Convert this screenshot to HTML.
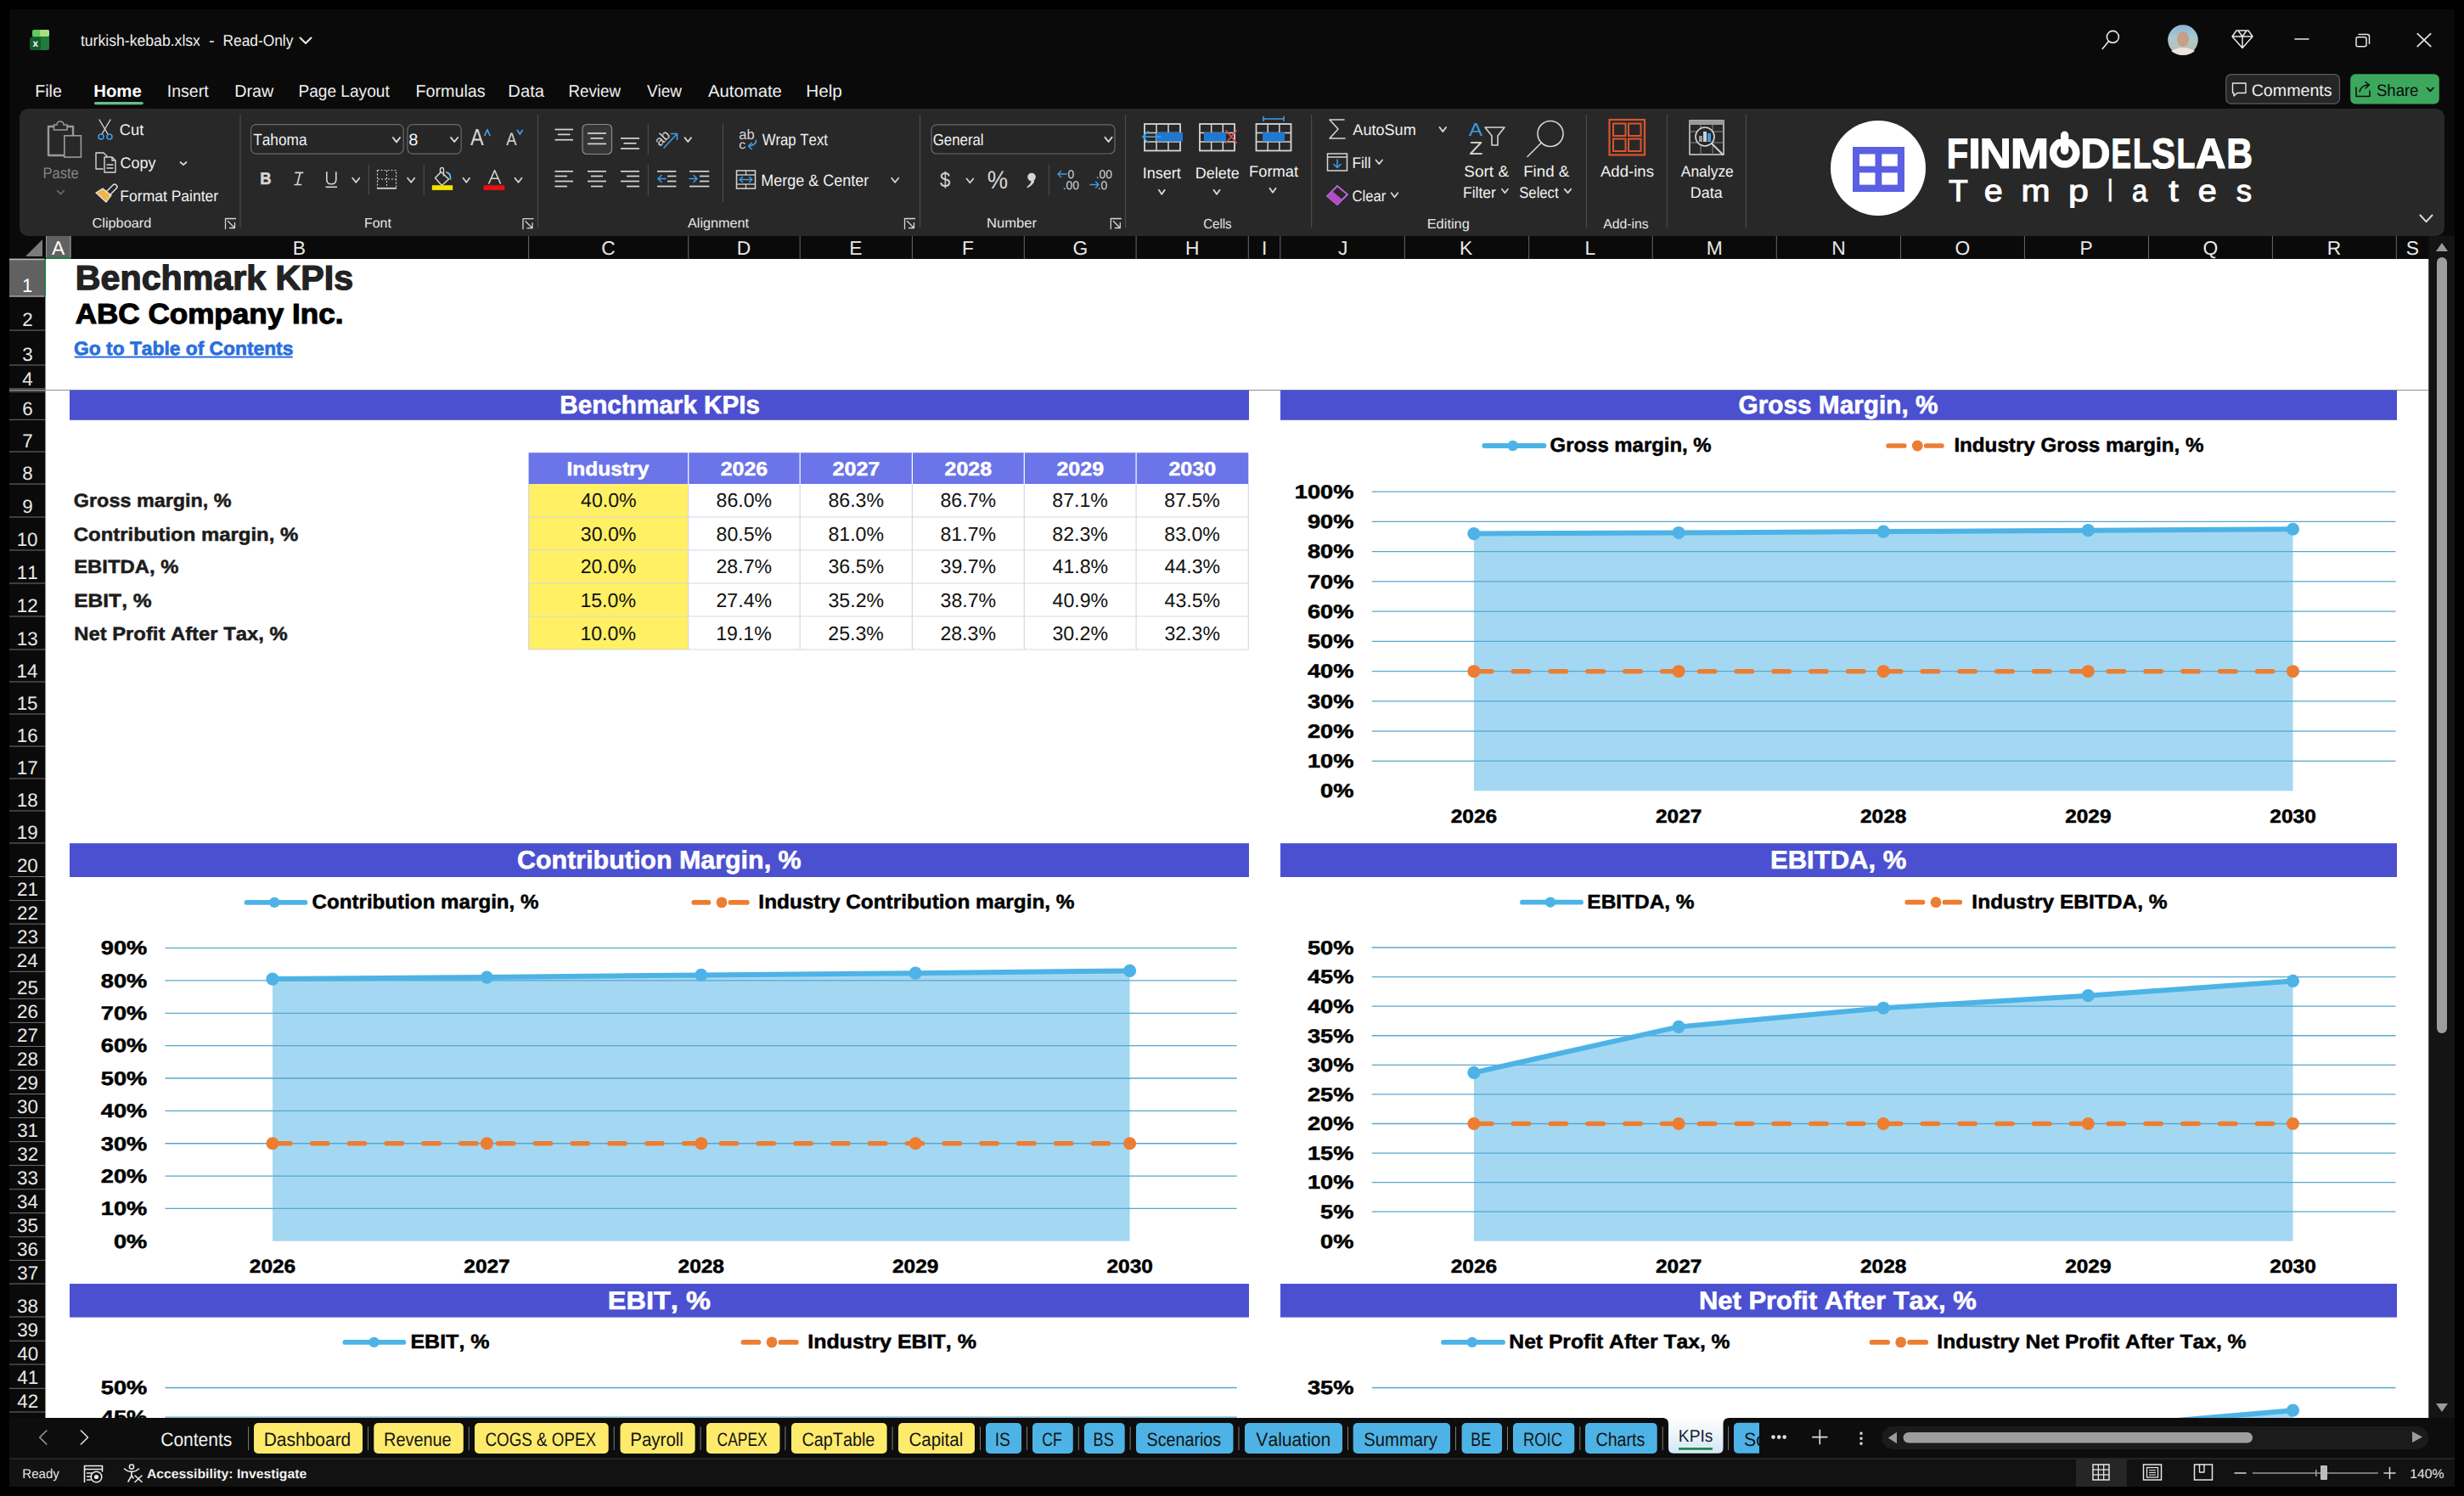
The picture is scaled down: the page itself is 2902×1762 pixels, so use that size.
<!DOCTYPE html>
<html><head><meta charset="utf-8"><style>
html,body{margin:0;padding:0;background:#000;width:2902px;height:1762px;overflow:hidden}
svg{display:block}
text{font-family:"Liberation Sans",sans-serif;font-kerning:none;white-space:pre}
</style></head><body>
<svg width="2902" height="1762" viewBox="0 0 2902 1762" text-rendering="geometricPrecision">
<rect x="0" y="0" width="2902" height="1762" fill="#000000"/>
<rect x="11" y="11" width="2880" height="1740" fill="#0a0a0a"/>
<rect x="23" y="128" width="2856" height="150" rx="10" ry="10" fill="#282828"/>
<rect x="38" y="35" width="20" height="24" rx="2.5" fill="#1f7a3b"/>
<rect x="38" y="35" width="20" height="8" rx="2.5" fill="#63c95f"/>
<rect x="47" y="35" width="11" height="8" rx="2" fill="#a8e07a"/>
<rect x="35" y="44" width="13" height="15" rx="2" fill="#115c2c"/>
<text transform="matrix(1.0000 0 0 1 38.42 0)" y="55" font-size="11.63" font-weight="700" fill="#ffffff">x</text>
<text transform="matrix(0.9474 0 0 1 94.93 0)" y="54.2" font-size="18.60" fill="#f0f0f0">turkish-kebab.xlsx</text>
<text transform="matrix(1.0788 0 0 1 245.91 0)" y="54.2" font-size="18.60" fill="#f0f0f0">-</text>
<text transform="matrix(0.9329 0 0 1 262.48 0)" y="54.2" font-size="18.60" fill="#f0f0f0">Read-Only</text>
<path d="M353.5 44.5 L360.0 50.900000000000006 L366.5 44.5" stroke="#e8e8e8" stroke-width="2.1" fill="none" stroke-linecap="round" stroke-linejoin="round"/>
<circle cx="2488.4" cy="43.4" r="7" fill="none" stroke="#e8e8e8" stroke-width="1.6"/>
<path d="M2483 49.2 L2476.2 57.4" stroke="#e8e8e8" stroke-width="1.6" fill="none" stroke-linecap="round" stroke-linejoin="round"/>
<defs><linearGradient id="av" x1="0" y1="0" x2="0" y2="1"><stop offset="0" stop-color="#8fb4d6"/><stop offset="0.45" stop-color="#a9c9cf"/><stop offset="1" stop-color="#c8b8a4"/></linearGradient></defs>
<circle cx="2571" cy="47" r="17.8" fill="url(#av)"/>
<ellipse cx="2571" cy="46" rx="7" ry="9" fill="#c59f86"/>
<path d="M2557 60 Q2571 52 2585 60 Q2579 65 2571 65 Q2563 65 2557 60Z" fill="#e9e4dc"/>
<path d="M2634 36 H2648 L2653 43 L2641 56.5 L2629 43 Z M2629 43 H2653 M2636 36 L2641 43 L2646 36 M2641 43 V56.5" stroke="#e8e8e8" stroke-width="1.5" fill="none" stroke-linecap="round" stroke-linejoin="round"/>
<path d="M2703 46.1 H2719" stroke="#e8e8e8" stroke-width="1.5" fill="none" stroke-linecap="round" stroke-linejoin="round"/>
<rect x="2775" y="43.7" width="12" height="11" rx="2" fill="none" stroke="#e8e8e8" stroke-width="1.5"/>
<path d="M2778 40.5 H2788 Q2790.5 40.5 2790.5 43 V51.5" stroke="#e8e8e8" stroke-width="1.5" fill="none" stroke-linecap="round" stroke-linejoin="round"/>
<path d="M2847.2 39.7 L2862.8 54.7 M2862.8 39.7 L2847.2 54.7" stroke="#e8e8e8" stroke-width="1.6" fill="none" stroke-linecap="round" stroke-linejoin="round"/>
<rect x="2621.7" y="87.7" width="133.8" height="34.4" rx="6" fill="#262626" stroke="#5c5c5c" stroke-width="1.2"/>
<path d="M2629.5 98 H2645 V109.5 H2635 L2631 113 V109.5 H2629.5 Z" stroke="#e8e8e8" stroke-width="1.4" fill="none" stroke-linecap="round" stroke-linejoin="round"/>
<text transform="matrix(1.0079 0 0 1 2651.70 0)" y="112.8" font-size="19.48" fill="#f2f2f2">Comments</text>
<rect x="2768.2" y="87.2" width="104.6" height="35.4" rx="6" fill="#3ca85d"/>
<path d="M2775 103 V113.5 H2791 V107 M2779 108 Q2781 100 2790 100 M2786 96.5 L2790.5 100 L2786 104" stroke="#0d0d0d" stroke-width="1.5" fill="none" stroke-linecap="round" stroke-linejoin="round"/>
<text transform="matrix(0.9518 0 0 1 2798.96 0)" y="112.8" font-size="19.48" fill="#0a0a0a">Share</text>
<path d="M2858.7 103.5 L2862.3 107.4 L2865.9 103.5" stroke="#0d0d0d" stroke-width="1.8" fill="none" stroke-linecap="round" stroke-linejoin="round"/>
<text transform="matrix(0.9804 0 0 1 41.19 0)" y="114" font-size="20.06" fill="#f0f0f0">File</text>
<text transform="matrix(1.0149 0 0 1 110.24 0)" y="114" font-size="20.06" font-weight="700" fill="#ffffff">Home</text>
<text transform="matrix(0.9737 0 0 1 196.80 0)" y="114" font-size="20.06" fill="#f0f0f0">Insert</text>
<text transform="matrix(0.9821 0 0 1 276.18 0)" y="114" font-size="20.06" fill="#f0f0f0">Draw</text>
<text transform="matrix(0.9527 0 0 1 351.43 0)" y="114" font-size="20.06" fill="#f0f0f0">Page Layout</text>
<text transform="matrix(0.9850 0 0 1 489.38 0)" y="114" font-size="20.06" fill="#f0f0f0">Formulas</text>
<text transform="matrix(1.0068 0 0 1 598.34 0)" y="114" font-size="20.06" fill="#f0f0f0">Data</text>
<text transform="matrix(0.9350 0 0 1 669.46 0)" y="114" font-size="20.06" fill="#f0f0f0">Review</text>
<text transform="matrix(0.9439 0 0 1 761.92 0)" y="114" font-size="20.06" fill="#f0f0f0">View</text>
<text transform="matrix(1.0127 0 0 1 833.96 0)" y="114" font-size="20.06" fill="#f0f0f0">Automate</text>
<text transform="matrix(1.0319 0 0 1 949.30 0)" y="114" font-size="20.06" fill="#f0f0f0">Help</text>
<rect x="111" y="120" width="57.8" height="3.2" rx="1.6" fill="#66bd8a"/>
<path d="M63 149 H57 V183 H75 M80 149 H86 V159" stroke="#9a9a9a" stroke-width="2.4" fill="none" stroke-linecap="round" stroke-linejoin="round" stroke-linecap="butt" stroke-linejoin="miter"/>
<path d="M63.5 147 H67 A4 4 0 0 1 75 147 H79 V153 H63.5 Z" fill="#282828" stroke="#9a9a9a" stroke-width="1.6"/>
<rect x="75.8" y="159.8" width="19.6" height="25.3" fill="#282828" stroke="#9a9a9a" stroke-width="1.6"/>
<text transform="matrix(0.9008 0 0 1 50.55 0)" y="209.7" font-size="18.31" fill="#858585">Paste</text>
<path d="M67.5 224.5 L71.4 228.7 L75.3 224.5" stroke="#6a6a6a" stroke-width="1.7" fill="none" stroke-linecap="round" stroke-linejoin="round"/>
<path d="M117 141 L127 158 M130 141 L120 158" stroke="#d6d6d6" stroke-width="1.4" fill="none" stroke-linecap="round" stroke-linejoin="round"/>
<circle cx="119" cy="161" r="3" fill="none" stroke="#3e9be3" stroke-width="1.6"/>
<circle cx="129" cy="161" r="3" fill="none" stroke="#3e9be3" stroke-width="1.6"/>
<text transform="matrix(0.9987 0 0 1 140.87 0)" y="159" font-size="18.31" fill="#f2f2f2">Cut</text>
<path d="M121 199 H113 V180 H122 L126 184" stroke="#d6d6d6" stroke-width="1.4" fill="none" stroke-linecap="round" stroke-linejoin="round"/>
<path d="M123 185 H132 L136 189 V203 H123 Z M132 185 V189 H136 M126 194 H133 M126 198 H133" stroke="#d6d6d6" stroke-width="1.4" fill="none" stroke-linecap="round" stroke-linejoin="round"/>
<text transform="matrix(0.9812 0 0 1 141.49 0)" y="198.1" font-size="18.31" fill="#f2f2f2">Copy</text>
<path d="M212.5 191.0 L216.0 194.2 L219.5 191.0" stroke="#d6d6d6" stroke-width="1.8" fill="none" stroke-linecap="round" stroke-linejoin="round"/>
<path d="M113 227 L125 238 L131 230 L121 222 Z" fill="#f0b54a" stroke="#e8e8e8" stroke-width="1.2"/>
<path d="M125 226 L133 218 Q135 216 137 218 Q139 220 137 222 L129 230" stroke="#e8e8e8" stroke-width="1.4" fill="none" stroke-linecap="round" stroke-linejoin="round"/>
<text transform="matrix(0.9572 0 0 1 141.36 0)" y="237.1" font-size="18.31" fill="#f2f2f2">Format Painter</text>
<text transform="matrix(1.0211 0 0 1 108.47 0)" y="267.7" font-size="15.99" fill="#e6e6e6">Clipboard</text>
<path d="M265.5 269.5 V257.5 H277.5 M268.5 260.5 L276.5 268.5 M276.5 262.5 V268.5 H270.5" stroke="#d6d6d6" stroke-width="1.3" fill="none" stroke-linecap="round" stroke-linejoin="round"/>
<line x1="283" y1="135" x2="283" y2="268" stroke="#4a4a4a" stroke-width="1.2"/>
<rect x="295.6" y="146.6" width="179.5" height="34.5" rx="6" fill="#262626" stroke="#6a6a6a" stroke-width="1.2"/>
<text transform="matrix(0.8992 0 0 1 298.21 0)" y="170.7" font-size="19.19" fill="#f2f2f2">Tahoma</text>
<path d="M462.9 162.1 L466.95 167.39999999999998 L471.0 162.1" stroke="#d6d6d6" stroke-width="1.9000000000000001" fill="none" stroke-linecap="round" stroke-linejoin="round"/>
<rect x="480" y="146.6" width="63.2" height="34.5" rx="6" fill="#262626" stroke="#6a6a6a" stroke-width="1.2"/>
<text transform="matrix(1.0441 0 0 1 481.13 0)" y="170.7" font-size="19.19" fill="#f2f2f2">8</text>
<path d="M531.1 162.1 L535.1500000000001 167.0 L539.2 162.1" stroke="#d6d6d6" stroke-width="1.9000000000000001" fill="none" stroke-linecap="round" stroke-linejoin="round"/>
<text transform="matrix(0.8564 0 0 1 553.95 0)" y="171.4" font-size="27.47" fill="#d6d6d6">A</text>
<path d="M570.9 159.5 L573.9 152.7 L576.9 159.5" stroke="#3e9be3" stroke-width="1.8" fill="none" stroke-linecap="round" stroke-linejoin="round"/>
<text transform="matrix(0.8791 0 0 1 596.36 0)" y="171.4" font-size="20.93" fill="#d6d6d6">A</text>
<path d="M609.3 153.5 L612.3 158.1 L615.3 153.5" stroke="#3e9be3" stroke-width="1.8" fill="none" stroke-linecap="round" stroke-linejoin="round"/>
<line x1="633.5" y1="135" x2="633.5" y2="268" stroke="#4a4a4a" stroke-width="1.2"/>
<text transform="matrix(0.9223 0 0 1 306.17 0)" y="217.4" font-size="19.91" font-weight="700" fill="#d6d6d6" stroke="#d6d6d6" stroke-width="0.6">B</text>
<path d="M348 203.4 H356.6 M347.2 217.5 H354.6 M353.6 203.4 L350 217.5" stroke="#d6d6d6" stroke-width="1.7" fill="none" stroke-linecap="round" stroke-linejoin="round"/>
<path d="M384.8 202.7 V211.5 Q384.8 216.8 390.3 216.8 Q395.8 216.8 395.8 211.5 V202.7" stroke="#d6d6d6" stroke-width="1.6" fill="none" stroke-linecap="round" stroke-linejoin="round"/>
<line x1="383.5" y1="220.3" x2="397" y2="220.3" stroke="#d6d6d6" stroke-width="1.6"/>
<path d="M415.2 209.8 L419.25 214.7 L423.3 209.8" stroke="#d6d6d6" stroke-width="1.8" fill="none" stroke-linecap="round" stroke-linejoin="round"/>
<line x1="434.4" y1="194" x2="434.4" y2="229.6" stroke="#4a4a4a" stroke-width="1.2"/>
<rect x="444.5" y="200.5" width="22" height="21" fill="none" stroke="#d6d6d6" stroke-width="1.2" stroke-dasharray="2 2"/>
<line x1="444" y1="221.8" x2="467" y2="221.8" stroke="#d6d6d6" stroke-width="1.8"/>
<line x1="455.5" y1="201" x2="455.5" y2="221" stroke="#d6d6d6" stroke-width="1.0" stroke-dasharray="2 2"/>
<line x1="445" y1="211" x2="466" y2="211" stroke="#d6d6d6" stroke-width="1.0" stroke-dasharray="2 2"/>
<path d="M480.1 209.8 L484.15 214.7 L488.2 209.8" stroke="#d6d6d6" stroke-width="1.8" fill="none" stroke-linecap="round" stroke-linejoin="round"/>
<line x1="499.3" y1="194" x2="499.3" y2="229.6" stroke="#4a4a4a" stroke-width="1.2"/>
<path d="M512.5 209.5 L519.5 202.5 L528.5 211 L522 217 Q520.5 218.3 519 217 Z" stroke="#d6d6d6" stroke-width="1.5" fill="none" stroke-linecap="round" stroke-linejoin="round"/>
<path d="M518.5 203.5 V199.5 Q518.5 197.5 520.5 197.5 Q522.5 197.5 522.5 199.5 V207" stroke="#d6d6d6" stroke-width="1.4" fill="none" stroke-linecap="round" stroke-linejoin="round"/>
<path d="M526 203 Q531 204 530.5 211" stroke="#6fb2ea" stroke-width="1.8" fill="none" stroke-linecap="round" stroke-linejoin="round"/>
<rect x="508.8" y="218.2" width="24.4" height="5.7" fill="#f5e400"/>
<path d="M545.5 209.8 L549.25 214.7 L553.0 209.8" stroke="#d6d6d6" stroke-width="1.8" fill="none" stroke-linecap="round" stroke-linejoin="round"/>
<path d="M575.8 216 L582.6 200.7 L589.4 216 M578.3 210.3 H586.9" stroke="#d6d6d6" stroke-width="1.6" fill="none" stroke-linecap="round" stroke-linejoin="round"/>
<rect x="569.6" y="218.2" width="24.7" height="5.7" fill="#e81010"/>
<path d="M606.5 209.8 L610.5 214.7 L614.5 209.8" stroke="#d6d6d6" stroke-width="1.8" fill="none" stroke-linecap="round" stroke-linejoin="round"/>
<text transform="matrix(0.9946 0 0 1 429.00 0)" y="267.7" font-size="15.99" fill="#e6e6e6">Font</text>
<path d="M616 269.7 V257.7 H628 M619 260.7 L627 268.7 M627 262.7 V268.7 H621" stroke="#d6d6d6" stroke-width="1.3" fill="none" stroke-linecap="round" stroke-linejoin="round"/>
<line x1="653.5" y1="152.5" x2="675" y2="152.5" stroke="#d6d6d6" stroke-width="1.7"/>
<line x1="657" y1="158.4" x2="671.5" y2="158.4" stroke="#d6d6d6" stroke-width="1.7"/>
<line x1="653.5" y1="164.7" x2="675" y2="164.7" stroke="#d6d6d6" stroke-width="1.7"/>
<rect x="686" y="146.5" width="34.5" height="35" rx="5" fill="#363636" stroke="#8e8e8e" stroke-width="1.2"/>
<line x1="692" y1="157" x2="714" y2="157" stroke="#d6d6d6" stroke-width="1.7"/>
<line x1="695.5" y1="162.9" x2="710.5" y2="162.9" stroke="#d6d6d6" stroke-width="1.7"/>
<line x1="692" y1="169.4" x2="714" y2="169.4" stroke="#d6d6d6" stroke-width="1.7"/>
<line x1="731" y1="162.9" x2="753" y2="162.9" stroke="#d6d6d6" stroke-width="1.7"/>
<line x1="734.5" y1="168.8" x2="749.5" y2="168.8" stroke="#d6d6d6" stroke-width="1.7"/>
<line x1="731" y1="175" x2="753" y2="175" stroke="#d6d6d6" stroke-width="1.7"/>
<line x1="763.4" y1="146" x2="763.4" y2="182.3" stroke="#4a4a4a" stroke-width="1.2"/>
<g transform="rotate(-45 780 161)"><text x="769.5" y="167.5" font-size="16.5" fill="#d6d6d6">ab</text></g>
<path d="M782 174 L797 158 M790.5 157.5 H797.5 V164.5" stroke="#3e9be3" stroke-width="1.6" fill="none" stroke-linecap="round" stroke-linejoin="round"/>
<path d="M806.5 162.1 L810.25 167.0 L814.0 162.1" stroke="#d6d6d6" stroke-width="1.8" fill="none" stroke-linecap="round" stroke-linejoin="round"/>
<line x1="653.5" y1="201.8" x2="675" y2="201.8" stroke="#d6d6d6" stroke-width="1.7"/>
<line x1="653.5" y1="207.5" x2="668" y2="207.5" stroke="#d6d6d6" stroke-width="1.7"/>
<line x1="653.5" y1="213.5" x2="675" y2="213.5" stroke="#d6d6d6" stroke-width="1.7"/>
<line x1="653.5" y1="219.5" x2="668" y2="219.5" stroke="#d6d6d6" stroke-width="1.7"/>
<line x1="692" y1="201.8" x2="714" y2="201.8" stroke="#d6d6d6" stroke-width="1.7"/>
<line x1="696" y1="207.5" x2="710" y2="207.5" stroke="#d6d6d6" stroke-width="1.7"/>
<line x1="692" y1="213.5" x2="714" y2="213.5" stroke="#d6d6d6" stroke-width="1.7"/>
<line x1="696" y1="219.5" x2="710" y2="219.5" stroke="#d6d6d6" stroke-width="1.7"/>
<line x1="731" y1="201.8" x2="753" y2="201.8" stroke="#d6d6d6" stroke-width="1.7"/>
<line x1="738" y1="207.5" x2="753" y2="207.5" stroke="#d6d6d6" stroke-width="1.7"/>
<line x1="731" y1="213.5" x2="753" y2="213.5" stroke="#d6d6d6" stroke-width="1.7"/>
<line x1="738" y1="219.5" x2="753" y2="219.5" stroke="#d6d6d6" stroke-width="1.7"/>
<line x1="763.4" y1="194" x2="763.4" y2="230.4" stroke="#4a4a4a" stroke-width="1.2"/>
<line x1="774" y1="201.8" x2="796.4" y2="201.8" stroke="#d6d6d6" stroke-width="1.7"/>
<line x1="774" y1="219.5" x2="796.4" y2="219.5" stroke="#d6d6d6" stroke-width="1.7"/>
<line x1="786" y1="207.5" x2="796.4" y2="207.5" stroke="#d6d6d6" stroke-width="1.7"/>
<line x1="786" y1="213.5" x2="796.4" y2="213.5" stroke="#d6d6d6" stroke-width="1.7"/>
<path d="M784 210.5 H775 M779 206.5 L775 210.5 L779 214.5" stroke="#3e9be3" stroke-width="1.5" fill="none" stroke-linecap="round" stroke-linejoin="round"/>
<line x1="812" y1="201.8" x2="835.3" y2="201.8" stroke="#d6d6d6" stroke-width="1.7"/>
<line x1="812" y1="219.5" x2="835.3" y2="219.5" stroke="#d6d6d6" stroke-width="1.7"/>
<line x1="824" y1="207.5" x2="835.3" y2="207.5" stroke="#d6d6d6" stroke-width="1.7"/>
<line x1="824" y1="213.5" x2="835.3" y2="213.5" stroke="#d6d6d6" stroke-width="1.7"/>
<path d="M812 210.5 H821 M817 206.5 L821 210.5 L817 214.5" stroke="#3e9be3" stroke-width="1.5" fill="none" stroke-linecap="round" stroke-linejoin="round"/>
<line x1="851.4" y1="145" x2="851.4" y2="238" stroke="#4a4a4a" stroke-width="1.2"/>
<text transform="matrix(0.9895 0 0 1 870.30 0)" y="163.5" font-size="16.72" fill="#d6d6d6">ab</text>
<text transform="matrix(1.1758 0 0 1 870.31 0)" y="175" font-size="13.81" fill="#d6d6d6">c</text>
<path d="M890.5 165 Q891 171 882 172 M885 168.5 L881.5 172 L885 175.5" stroke="#3e9be3" stroke-width="1.7" fill="none" stroke-linecap="round" stroke-linejoin="round"/>
<text transform="matrix(0.8736 0 0 1 897.63 0)" y="171.2" font-size="19.19" fill="#f2f2f2">Wrap Text</text>
<rect x="867.5" y="201" width="22" height="21" fill="none" stroke="#d6d6d6" stroke-width="1.5"/>
<line x1="867.5" y1="206" x2="889.5" y2="206" stroke="#d6d6d6" stroke-width="1.3"/>
<line x1="867.5" y1="217" x2="889.5" y2="217" stroke="#d6d6d6" stroke-width="1.3"/>
<rect x="869.5" y="207.5" width="18" height="8" fill="#282828"/>
<path d="M871 211.5 H886 M874.5 208.5 L871 211.5 L874.5 214.5 M882.5 208.5 L886 211.5 L882.5 214.5" stroke="#3e9be3" stroke-width="1.5" fill="none" stroke-linecap="round" stroke-linejoin="round"/>
<line x1="878.5" y1="201" x2="878.5" y2="206" stroke="#d6d6d6" stroke-width="1.2"/>
<line x1="878.5" y1="217" x2="878.5" y2="222" stroke="#d6d6d6" stroke-width="1.2"/>
<text transform="matrix(0.9383 0 0 1 896.22 0)" y="219.2" font-size="19.19" fill="#f2f2f2">Merge &amp; Center</text>
<path d="M1050.1 209.8 L1054.15 214.7 L1058.2 209.8" stroke="#d6d6d6" stroke-width="1.8" fill="none" stroke-linecap="round" stroke-linejoin="round"/>
<text transform="matrix(1.0148 0 0 1 809.97 0)" y="268" font-size="15.99" fill="#e6e6e6">Alignment</text>
<path d="M1065.5 269.5 V257.5 H1077.5 M1068.5 260.5 L1076.5 268.5 M1076.5 262.5 V268.5 H1070.5" stroke="#d6d6d6" stroke-width="1.3" fill="none" stroke-linecap="round" stroke-linejoin="round"/>
<line x1="1083.5" y1="135" x2="1083.5" y2="268" stroke="#4a4a4a" stroke-width="1.2"/>
<rect x="1097" y="146.8" width="216" height="34.2" rx="6" fill="#262626" stroke="#6a6a6a" stroke-width="1.2"/>
<text transform="matrix(0.8922 0 0 1 1098.65 0)" y="171" font-size="18.90" fill="#f2f2f2">General</text>
<path d="M1301.5 161.8 L1305.5 167.0 L1309.5 161.8" stroke="#d6d6d6" stroke-width="1.9000000000000001" fill="none" stroke-linecap="round" stroke-linejoin="round"/>
<text transform="matrix(0.8946 0 0 1 1107.06 0)" y="219.5" font-size="24.71" fill="#d6d6d6">$</text>
<path d="M1138.5 210.5 L1142.4 215.2 L1146.3 210.5" stroke="#d6d6d6" stroke-width="1.8" fill="none" stroke-linecap="round" stroke-linejoin="round"/>
<text transform="matrix(0.9192 0 0 1 1162.82 0)" y="222.3" font-size="29.80" fill="#d6d6d6">%</text>
<circle cx="1215" cy="208.5" r="4.8" fill="#d6d6d6"/>
<path d="M1217.5 211 Q1220 216 1210 221.5 L1209.5 220 Q1215 216 1214.5 212 Z" fill="#d6d6d6"/>
<line x1="1235.5" y1="194" x2="1235.5" y2="230" stroke="#4a4a4a" stroke-width="1.2"/>
<text transform="matrix(1.0000 0 0 1 1257.46 0)" y="210" font-size="13.81" fill="#d6d6d6">0</text>
<text transform="matrix(1.0000 0 0 1 1251.74 0)" y="222.9" font-size="13.81" fill="#d6d6d6">.00</text>
<path d="M1256 205 H1246 M1249.5 201.5 L1246 205 L1249.5 208.5" stroke="#3e9be3" stroke-width="1.4" fill="none" stroke-linecap="round" stroke-linejoin="round"/>
<text transform="matrix(1.0000 0 0 1 1290.74 0)" y="210" font-size="13.81" fill="#d6d6d6">.00</text>
<text transform="matrix(1.0000 0 0 1 1292.74 0)" y="222.9" font-size="13.81" fill="#d6d6d6">.0</text>
<path d="M1284 217.5 H1294 M1290.5 214 L1294 217.5 L1290.5 221" stroke="#3e9be3" stroke-width="1.4" fill="none" stroke-linecap="round" stroke-linejoin="round"/>
<text transform="matrix(1.0364 0 0 1 1162.04 0)" y="268" font-size="15.99" fill="#e6e6e6">Number</text>
<path d="M1308.3 269.5 V257.5 H1320.3 M1311.3 260.5 L1319.3 268.5 M1319.3 262.5 V268.5 H1313.3" stroke="#d6d6d6" stroke-width="1.3" fill="none" stroke-linecap="round" stroke-linejoin="round"/>
<line x1="1325.5" y1="135" x2="1325.5" y2="268" stroke="#4a4a4a" stroke-width="1.2"/>
<rect x="1348" y="146" width="42" height="31.5" fill="none" stroke="#d6d6d6" stroke-width="1.8"/>
<line x1="1362.0" y1="146" x2="1362.0" y2="177.5" stroke="#d6d6d6" stroke-width="1.5"/>
<line x1="1376.0" y1="146" x2="1376.0" y2="177.5" stroke="#d6d6d6" stroke-width="1.5"/>
<line x1="1348" y1="156.5" x2="1390" y2="156.5" stroke="#d6d6d6" stroke-width="1.5"/>
<line x1="1348" y1="167.0" x2="1390" y2="167.0" stroke="#d6d6d6" stroke-width="1.5"/>
<rect x="1362" y="156" width="31" height="10.5" fill="#1f78d1"/>
<path d="M1367 161.2 H1346 M1352 155 L1346 161.2 L1352 167.5" stroke="#3e9be3" stroke-width="1.8" fill="none" stroke-linecap="round" stroke-linejoin="round"/>
<text transform="matrix(0.9868 0 0 1 1345.63 0)" y="210" font-size="18.31" fill="#f2f2f2">Insert</text>
<path d="M1364.9 223.8 L1368.3000000000002 228.79999999999998 L1371.7 223.8" stroke="#d6d6d6" stroke-width="1.9000000000000001" fill="none" stroke-linecap="round" stroke-linejoin="round"/>
<rect x="1413" y="146" width="41" height="31.5" fill="none" stroke="#d6d6d6" stroke-width="1.8"/>
<line x1="1426.6666666666667" y1="146" x2="1426.6666666666667" y2="177.5" stroke="#d6d6d6" stroke-width="1.5"/>
<line x1="1440.3333333333333" y1="146" x2="1440.3333333333333" y2="177.5" stroke="#d6d6d6" stroke-width="1.5"/>
<line x1="1413" y1="156.5" x2="1454" y2="156.5" stroke="#d6d6d6" stroke-width="1.5"/>
<line x1="1413" y1="167.0" x2="1454" y2="167.0" stroke="#d6d6d6" stroke-width="1.5"/>
<rect x="1418" y="156" width="26" height="10.5" fill="#1f78d1"/>
<path d="M1444 154 L1456 168 M1456 154 L1444 168" stroke="#e04848" stroke-width="1.8" fill="none" stroke-linecap="round" stroke-linejoin="round"/>
<text transform="matrix(0.9818 0 0 1 1407.73 0)" y="210" font-size="18.31" fill="#f2f2f2">Delete</text>
<path d="M1429.5 223.8 L1433.0 228.79999999999998 L1436.5 223.8" stroke="#d6d6d6" stroke-width="1.9000000000000001" fill="none" stroke-linecap="round" stroke-linejoin="round"/>
<rect x="1479.5" y="146" width="41" height="31.5" fill="none" stroke="#d6d6d6" stroke-width="1.8"/>
<line x1="1493.1666666666667" y1="146" x2="1493.1666666666667" y2="177.5" stroke="#d6d6d6" stroke-width="1.5"/>
<line x1="1506.8333333333333" y1="146" x2="1506.8333333333333" y2="177.5" stroke="#d6d6d6" stroke-width="1.5"/>
<line x1="1479.5" y1="156.5" x2="1520.5" y2="156.5" stroke="#d6d6d6" stroke-width="1.5"/>
<line x1="1479.5" y1="167.0" x2="1520.5" y2="167.0" stroke="#d6d6d6" stroke-width="1.5"/>
<rect x="1487" y="156" width="26" height="10.5" fill="#1f78d1"/>
<path d="M1488 140 H1512 M1488 137.5 V142.5 M1512 137.5 V142.5" stroke="#3e9be3" stroke-width="1.6" fill="none" stroke-linecap="round" stroke-linejoin="round"/>
<text transform="matrix(1.0006 0 0 1 1471.10 0)" y="208" font-size="18.31" fill="#f2f2f2">Format</text>
<path d="M1495.5 221.8 L1499.0 226.7 L1502.5 221.8" stroke="#d6d6d6" stroke-width="1.9000000000000001" fill="none" stroke-linecap="round" stroke-linejoin="round"/>
<text transform="matrix(0.9371 0 0 1 1417.24 0)" y="269" font-size="15.99" fill="#e6e6e6">Cells</text>
<line x1="1544.6" y1="135" x2="1544.6" y2="268" stroke="#4a4a4a" stroke-width="1.2"/>
<path d="M1583 141 H1566 L1576 152 L1566 163 H1584" stroke="#d6d6d6" stroke-width="1.6" fill="none" stroke-linecap="round" stroke-linejoin="round"/>
<text transform="matrix(0.9880 0 0 1 1593.36 0)" y="159.3" font-size="18.31" fill="#f2f2f2">AutoSum</text>
<path d="M1695.5 150.0 L1699.3 154.89999999999998 L1703.1 150.0" stroke="#d6d6d6" stroke-width="1.9000000000000001" fill="none" stroke-linecap="round" stroke-linejoin="round"/>
<rect x="1563.5" y="181" width="23" height="20" fill="none" stroke="#d6d6d6" stroke-width="1.5"/>
<line x1="1563.5" y1="185" x2="1586.5" y2="185" stroke="#d6d6d6" stroke-width="1.5"/>
<path d="M1575 188 V197 M1571 193.5 L1575 197.5 L1579 193.5" stroke="#3e9be3" stroke-width="1.6" fill="none" stroke-linecap="round" stroke-linejoin="round"/>
<text transform="matrix(0.9436 0 0 1 1592.48 0)" y="197.7" font-size="18.31" fill="#f2f2f2">Fill</text>
<path d="M1620.5 188.5 L1624.3 193.1 L1628.1 188.5" stroke="#d6d6d6" stroke-width="1.8" fill="none" stroke-linecap="round" stroke-linejoin="round"/>
<path d="M1563 231 L1575 219 L1587 229 L1575 241 Z" fill="none" stroke="#c468d8" stroke-width="1.8"/>
<path d="M1563 231 L1569 225 L1581 235 L1575 241 Z" fill="#b04cc8"/>
<text transform="matrix(0.9076 0 0 1 1592.56 0)" y="237" font-size="18.31" fill="#f2f2f2">Clear</text>
<path d="M1638.7 227.3 L1642.5 232.2 L1646.3 227.3" stroke="#d6d6d6" stroke-width="1.8" fill="none" stroke-linecap="round" stroke-linejoin="round"/>
<text transform="matrix(1.1067 0 0 1 1729.95 0)" y="160" font-size="21.80" fill="#3e9be3">A</text>
<text transform="matrix(1.2140 0 0 1 1730.16 0)" y="181.5" font-size="21.80" fill="#d6d6d6">Z</text>
<path d="M1749 150 H1772 L1764 160 V171 H1757 V160 Z" stroke="#d6d6d6" stroke-width="1.6" fill="none" stroke-linecap="round" stroke-linejoin="round"/>
<text transform="matrix(1.0367 0 0 1 1724.34 0)" y="208.2" font-size="18.31" fill="#f2f2f2">Sort &amp;</text>
<text transform="matrix(0.9540 0 0 1 1723.07 0)" y="232.5" font-size="18.31" fill="#f2f2f2">Filter</text>
<path d="M1768.9 222.8 L1772.4 227.2 L1775.9 222.8" stroke="#d6d6d6" stroke-width="1.8" fill="none" stroke-linecap="round" stroke-linejoin="round"/>
<circle cx="1826" cy="157.5" r="15" fill="none" stroke="#d6d6d6" stroke-width="1.6"/>
<path d="M1815.5 168 L1799 184.5" stroke="#d6d6d6" stroke-width="1.6" fill="none" stroke-linecap="round" stroke-linejoin="round"/>
<text transform="matrix(1.0227 0 0 1 1794.16 0)" y="208.2" font-size="18.31" fill="#f2f2f2">Find &amp;</text>
<text transform="matrix(0.9112 0 0 1 1789.24 0)" y="232.5" font-size="18.31" fill="#f2f2f2">Select</text>
<path d="M1842.8 222.8 L1846.5 227.2 L1850.2 222.8" stroke="#d6d6d6" stroke-width="1.8" fill="none" stroke-linecap="round" stroke-linejoin="round"/>
<text transform="matrix(1.0270 0 0 1 1680.65 0)" y="269.3" font-size="15.99" fill="#e6e6e6">Editing</text>
<line x1="1868.4" y1="135" x2="1868.4" y2="268" stroke="#4a4a4a" stroke-width="1.2"/>
<rect x="1895.5" y="141" width="41.5" height="41.5" fill="none" stroke="#d9552e" stroke-width="2.2"/>
<rect x="1900" y="145.5" width="14.5" height="14.5" fill="none" stroke="#d9552e" stroke-width="2"/>
<rect x="1918" y="145.5" width="14.5" height="14.5" fill="none" stroke="#d9552e" stroke-width="2"/>
<rect x="1900" y="163.5" width="14.5" height="14.5" fill="none" stroke="#d9552e" stroke-width="2"/>
<rect x="1918" y="163.5" width="14.5" height="14.5" fill="none" stroke="#d9552e" stroke-width="2"/>
<text transform="matrix(1.0147 0 0 1 1884.96 0)" y="207.5" font-size="18.31" fill="#f2f2f2">Add-ins</text>
<text transform="matrix(0.9869 0 0 1 1888.17 0)" y="269.3" font-size="15.99" fill="#e6e6e6">Add-ins</text>
<line x1="1963.4" y1="135" x2="1963.4" y2="268" stroke="#4a4a4a" stroke-width="1.2"/>
<rect x="1990" y="142" width="40" height="40" fill="none" stroke="#d6d6d6" stroke-width="1.5"/>
<rect x="1990" y="142" width="40" height="5" fill="#9a9a9a"/>
<line x1="1990" y1="155" x2="2030" y2="155" stroke="#8a8a8a" stroke-width="1"/>
<line x1="1990" y1="168" x2="2030" y2="168" stroke="#8a8a8a" stroke-width="1"/>
<line x1="2003" y1="147" x2="2003" y2="182" stroke="#8a8a8a" stroke-width="1"/>
<line x1="2017" y1="147" x2="2017" y2="182" stroke="#8a8a8a" stroke-width="1"/>
<circle cx="2008" cy="161" r="11" fill="#282828" stroke="#d6d6d6" stroke-width="1.6"/>
<rect x="2001" y="160" width="4" height="7" fill="#9a9a9a"/>
<rect x="2006" y="155" width="4" height="12" fill="#d0d0d0"/>
<rect x="2011" y="157" width="4" height="10" fill="#3e9be3"/>
<path d="M2016 169 L2029 182" stroke="#d6d6d6" stroke-width="1.8" fill="none" stroke-linecap="round" stroke-linejoin="round"/>
<text transform="matrix(0.9533 0 0 1 1979.77 0)" y="208.2" font-size="18.31" fill="#f2f2f2">Analyze</text>
<text transform="matrix(0.9763 0 0 1 1990.83 0)" y="232.5" font-size="18.31" fill="#f2f2f2">Data</text>
<line x1="2056.4" y1="135" x2="2056.4" y2="268" stroke="#4a4a4a" stroke-width="1.2"/>
<circle cx="2212" cy="198" r="56" fill="#ffffff"/>
<rect x="2182" y="173" width="61" height="53" fill="#5b5fe3"/>
<rect x="2190" y="181.5" width="18.5" height="14.2" fill="#ffffff"/>
<rect x="2216.3" y="181.5" width="18.5" height="14.2" fill="#ffffff"/>
<rect x="2190" y="203.4" width="18.5" height="14.2" fill="#ffffff"/>
<rect x="2216.3" y="203.4" width="18.5" height="14.2" fill="#ffffff"/>
<text transform="matrix(0.8294 0 0 1 2292.82 0)" y="197.7" font-size="50.15" font-weight="700" fill="#ffffff" stroke="#fff" stroke-width="1.2">F</text>
<text transform="matrix(1.0799 0 0 1 2317.98 0)" y="197.7" font-size="50.15" font-weight="700" fill="#ffffff" stroke="#fff" stroke-width="1.2">I</text>
<text transform="matrix(1.0312 0 0 1 2331.54 0)" y="197.7" font-size="50.15" font-weight="700" fill="#ffffff" stroke="#fff" stroke-width="1.2">N</text>
<text transform="matrix(1.0895 0 0 1 2367.85 0)" y="197.7" font-size="50.15" font-weight="700" fill="#ffffff" stroke="#fff" stroke-width="1.2">M</text>
<text transform="matrix(0.9755 0 0 1 2450.33 0)" y="197.7" font-size="50.15" font-weight="700" fill="#ffffff" stroke="#fff" stroke-width="1.2">D</text>
<text transform="matrix(0.7038 0 0 1 2486.44 0)" y="197.7" font-size="50.15" font-weight="700" fill="#ffffff" stroke="#fff" stroke-width="1.2">E</text>
<text transform="matrix(0.7150 0 0 1 2511.90 0)" y="197.7" font-size="50.15" font-weight="700" fill="#ffffff" stroke="#fff" stroke-width="1.2">L</text>
<text transform="matrix(0.8388 0 0 1 2533.99 0)" y="197.7" font-size="50.15" font-weight="700" fill="#ffffff" stroke="#fff" stroke-width="1.2">S</text>
<text transform="matrix(0.7150 0 0 1 2563.60 0)" y="197.7" font-size="50.15" font-weight="700" fill="#ffffff" stroke="#fff" stroke-width="1.2">L</text>
<text transform="matrix(0.9868 0 0 1 2585.77 0)" y="197.7" font-size="50.15" font-weight="700" fill="#ffffff" stroke="#fff" stroke-width="1.2">A</text>
<text transform="matrix(0.8502 0 0 1 2622.15 0)" y="197.7" font-size="50.15" font-weight="700" fill="#ffffff" stroke="#fff" stroke-width="1.2">B</text>
<circle cx="2431.7" cy="179.8" r="13.6" fill="none" stroke="#ffffff" stroke-width="8.6"/>
<rect x="2423.5" y="150" width="16.5" height="14" fill="#282828"/>
<rect x="2427" y="154.6" width="9.3" height="27.6" rx="4.6" fill="#ffffff"/>
<text transform="matrix(1.0352 0 0 1 2295.06 0)" y="237.4" font-size="36.05" fill="#ffffff" stroke="#fff" stroke-width="1.0">T</text>
<text transform="matrix(1.0937 0 0 1 2336.83 0)" y="237.4" font-size="36.05" fill="#ffffff" stroke="#fff" stroke-width="1.0">e</text>
<text transform="matrix(1.1324 0 0 1 2380.49 0)" y="237.4" font-size="36.05" fill="#ffffff" stroke="#fff" stroke-width="1.0">m</text>
<text transform="matrix(1.1906 0 0 1 2436.03 0)" y="237.4" font-size="36.05" fill="#ffffff" stroke="#fff" stroke-width="1.0">p</text>
<text transform="matrix(0.6786 0 0 1 2482.60 0)" y="237.4" font-size="36.05" fill="#ffffff" stroke="#fff" stroke-width="1.0">l</text>
<text transform="matrix(0.9073 0 0 1 2511.01 0)" y="237.4" font-size="36.05" fill="#ffffff" stroke="#fff" stroke-width="1.0">a</text>
<text transform="matrix(1.1515 0 0 1 2554.17 0)" y="237.4" font-size="36.05" fill="#ffffff" stroke="#fff" stroke-width="1.0">t</text>
<text transform="matrix(1.0997 0 0 1 2588.82 0)" y="237.4" font-size="36.05" fill="#ffffff" stroke="#fff" stroke-width="1.0">e</text>
<text transform="matrix(1.0180 0 0 1 2633.68 0)" y="237.4" font-size="36.05" fill="#ffffff" stroke="#fff" stroke-width="1.0">s</text>
<path d="M2850.5 253.5 L2857.5 261.2 L2864.5 253.5" stroke="#e0e0e0" stroke-width="1.9000000000000001" fill="none" stroke-linecap="round" stroke-linejoin="round"/>
<rect x="11" y="278" width="2850" height="27" fill="#0a0a0a"/>
<polygon points="50,282 50,302 30,302" fill="#7a7a7a"/>
<rect x="54" y="278" width="29" height="27" fill="#616161"/>
<line x1="83" y1="278" x2="83" y2="305" stroke="#6a6a6a" stroke-width="1"/>
<line x1="622.6" y1="278" x2="622.6" y2="305" stroke="#6a6a6a" stroke-width="1"/>
<line x1="810.7" y1="278" x2="810.7" y2="305" stroke="#6a6a6a" stroke-width="1"/>
<line x1="942.2" y1="278" x2="942.2" y2="305" stroke="#6a6a6a" stroke-width="1"/>
<line x1="1074.4" y1="278" x2="1074.4" y2="305" stroke="#6a6a6a" stroke-width="1"/>
<line x1="1206.3" y1="278" x2="1206.3" y2="305" stroke="#6a6a6a" stroke-width="1"/>
<line x1="1338.1" y1="278" x2="1338.1" y2="305" stroke="#6a6a6a" stroke-width="1"/>
<line x1="1470.3" y1="278" x2="1470.3" y2="305" stroke="#6a6a6a" stroke-width="1"/>
<line x1="1507.8" y1="278" x2="1507.8" y2="305" stroke="#6a6a6a" stroke-width="1"/>
<line x1="1654.3" y1="278" x2="1654.3" y2="305" stroke="#6a6a6a" stroke-width="1"/>
<line x1="1800.7" y1="278" x2="1800.7" y2="305" stroke="#6a6a6a" stroke-width="1"/>
<line x1="1946.2" y1="278" x2="1946.2" y2="305" stroke="#6a6a6a" stroke-width="1"/>
<line x1="2092.3" y1="278" x2="2092.3" y2="305" stroke="#6a6a6a" stroke-width="1"/>
<line x1="2238.5" y1="278" x2="2238.5" y2="305" stroke="#6a6a6a" stroke-width="1"/>
<line x1="2384.4" y1="278" x2="2384.4" y2="305" stroke="#6a6a6a" stroke-width="1"/>
<line x1="2530.5" y1="278" x2="2530.5" y2="305" stroke="#6a6a6a" stroke-width="1"/>
<line x1="2676.4" y1="278" x2="2676.4" y2="305" stroke="#6a6a6a" stroke-width="1"/>
<line x1="2822.3" y1="278" x2="2822.3" y2="305" stroke="#6a6a6a" stroke-width="1"/>
<rect x="11" y="305" width="42" height="1365" fill="#0a0a0a"/>
<rect x="11" y="305" width="42" height="44" fill="#616161"/>
<line x1="11" y1="349" x2="53" y2="349" stroke="#707070" stroke-width="1"/>
<line x1="11" y1="389" x2="53" y2="389" stroke="#707070" stroke-width="1"/>
<line x1="11" y1="430" x2="53" y2="430" stroke="#707070" stroke-width="1"/>
<line x1="11" y1="457.7" x2="53" y2="457.7" stroke="#707070" stroke-width="1"/>
<line x1="11" y1="494.3" x2="53" y2="494.3" stroke="#707070" stroke-width="1"/>
<line x1="11" y1="532" x2="53" y2="532" stroke="#707070" stroke-width="1"/>
<line x1="11" y1="570" x2="53" y2="570" stroke="#707070" stroke-width="1"/>
<line x1="11" y1="609" x2="53" y2="609" stroke="#707070" stroke-width="1"/>
<line x1="11" y1="648" x2="53" y2="648" stroke="#707070" stroke-width="1"/>
<line x1="11" y1="687" x2="53" y2="687" stroke="#707070" stroke-width="1"/>
<line x1="11" y1="726" x2="53" y2="726" stroke="#707070" stroke-width="1"/>
<line x1="11" y1="765" x2="53" y2="765" stroke="#707070" stroke-width="1"/>
<line x1="11" y1="803" x2="53" y2="803" stroke="#707070" stroke-width="1"/>
<line x1="11" y1="841" x2="53" y2="841" stroke="#707070" stroke-width="1"/>
<line x1="11" y1="879" x2="53" y2="879" stroke="#707070" stroke-width="1"/>
<line x1="11" y1="917" x2="53" y2="917" stroke="#707070" stroke-width="1"/>
<line x1="11" y1="955" x2="53" y2="955" stroke="#707070" stroke-width="1"/>
<line x1="11" y1="993" x2="53" y2="993" stroke="#707070" stroke-width="1"/>
<line x1="11" y1="1032.5" x2="53" y2="1032.5" stroke="#707070" stroke-width="1"/>
<line x1="11" y1="1060.6" x2="53" y2="1060.6" stroke="#707070" stroke-width="1"/>
<line x1="11" y1="1088.2" x2="53" y2="1088.2" stroke="#707070" stroke-width="1"/>
<line x1="11" y1="1116.3" x2="53" y2="1116.3" stroke="#707070" stroke-width="1"/>
<line x1="11" y1="1144.3" x2="53" y2="1144.3" stroke="#707070" stroke-width="1"/>
<line x1="11" y1="1176.4" x2="53" y2="1176.4" stroke="#707070" stroke-width="1"/>
<line x1="11" y1="1204.4" x2="53" y2="1204.4" stroke="#707070" stroke-width="1"/>
<line x1="11" y1="1232.5" x2="53" y2="1232.5" stroke="#707070" stroke-width="1"/>
<line x1="11" y1="1260.6" x2="53" y2="1260.6" stroke="#707070" stroke-width="1"/>
<line x1="11" y1="1288.5" x2="53" y2="1288.5" stroke="#707070" stroke-width="1"/>
<line x1="11" y1="1316.5" x2="53" y2="1316.5" stroke="#707070" stroke-width="1"/>
<line x1="11" y1="1344.6" x2="53" y2="1344.6" stroke="#707070" stroke-width="1"/>
<line x1="11" y1="1372.6" x2="53" y2="1372.6" stroke="#707070" stroke-width="1"/>
<line x1="11" y1="1400.7" x2="53" y2="1400.7" stroke="#707070" stroke-width="1"/>
<line x1="11" y1="1428.7" x2="53" y2="1428.7" stroke="#707070" stroke-width="1"/>
<line x1="11" y1="1456.8" x2="53" y2="1456.8" stroke="#707070" stroke-width="1"/>
<line x1="11" y1="1484.4" x2="53" y2="1484.4" stroke="#707070" stroke-width="1"/>
<line x1="11" y1="1512" x2="53" y2="1512" stroke="#707070" stroke-width="1"/>
<line x1="11" y1="1551" x2="53" y2="1551" stroke="#707070" stroke-width="1"/>
<line x1="11" y1="1579.3" x2="53" y2="1579.3" stroke="#707070" stroke-width="1"/>
<line x1="11" y1="1607" x2="53" y2="1607" stroke="#707070" stroke-width="1"/>
<line x1="11" y1="1635.3" x2="53" y2="1635.3" stroke="#707070" stroke-width="1"/>
<line x1="11" y1="1663" x2="53" y2="1663" stroke="#707070" stroke-width="1"/>
<line x1="11" y1="461.4" x2="53" y2="461.4" stroke="#707070" stroke-width="1"/>
<line x1="11" y1="459.5" x2="53" y2="459.5" stroke="#c8c8c8" stroke-width="1.2"/>
<line x1="11" y1="305" x2="53" y2="305" stroke="#8a8a8a" stroke-width="1"/>
<line x1="11" y1="305.6" x2="52" y2="305.6" stroke="#bdbdbd" stroke-width="1.2"/>
<line x1="11" y1="349" x2="52" y2="349" stroke="#bdbdbd" stroke-width="1.2"/>
<line x1="54.5" y1="278" x2="54.5" y2="303" stroke="#9a9a9a" stroke-width="1"/>
<line x1="83" y1="278" x2="83" y2="303" stroke="#9a9a9a" stroke-width="1"/>
<line x1="53" y1="305" x2="53" y2="349" stroke="#1f7a45" stroke-width="2"/>
<line x1="54" y1="304" x2="83" y2="304" stroke="#1f7a45" stroke-width="2"/>
<text transform="matrix(1.0000 0 0 1 60.89 0)" y="299.8" font-size="22.82" fill="#ffffff">A</text>
<text transform="matrix(1.0000 0 0 1 344.86 0)" y="299.8" font-size="22.82" fill="#e8e8e8">B</text>
<text transform="matrix(1.0000 0 0 1 708.27 0)" y="299.8" font-size="22.82" fill="#e8e8e8">C</text>
<text transform="matrix(1.0000 0 0 1 867.82 0)" y="299.8" font-size="22.82" fill="#e8e8e8">D</text>
<text transform="matrix(1.0000 0 0 1 1000.24 0)" y="299.8" font-size="22.82" fill="#e8e8e8">E</text>
<text transform="matrix(1.0000 0 0 1 1132.90 0)" y="299.8" font-size="22.82" fill="#e8e8e8">F</text>
<text transform="matrix(1.0000 0 0 1 1263.60 0)" y="299.8" font-size="22.82" fill="#e8e8e8">G</text>
<text transform="matrix(1.0000 0 0 1 1395.95 0)" y="299.8" font-size="22.82" fill="#e8e8e8">H</text>
<text transform="matrix(1.0000 0 0 1 1485.88 0)" y="299.8" font-size="22.82" fill="#e8e8e8">I</text>
<text transform="matrix(1.0000 0 0 1 1576.01 0)" y="299.8" font-size="22.82" fill="#e8e8e8">J</text>
<text transform="matrix(1.0000 0 0 1 1719.08 0)" y="299.8" font-size="22.82" fill="#e8e8e8">K</text>
<text transform="matrix(1.0000 0 0 1 1866.55 0)" y="299.8" font-size="22.82" fill="#e8e8e8">L</text>
<text transform="matrix(1.0000 0 0 1 2009.75 0)" y="299.8" font-size="22.82" fill="#e8e8e8">M</text>
<text transform="matrix(1.0000 0 0 1 2157.15 0)" y="299.8" font-size="22.82" fill="#e8e8e8">N</text>
<text transform="matrix(1.0000 0 0 1 2302.58 0)" y="299.8" font-size="22.82" fill="#e8e8e8">O</text>
<text transform="matrix(1.0000 0 0 1 2449.51 0)" y="299.8" font-size="22.82" fill="#e8e8e8">P</text>
<text transform="matrix(1.0000 0 0 1 2594.58 0)" y="299.8" font-size="22.82" fill="#e8e8e8">Q</text>
<text transform="matrix(1.0000 0 0 1 2740.70 0)" y="299.8" font-size="22.82" fill="#e8e8e8">R</text>
<text transform="matrix(1.0000 0 0 1 2833.80 0)" y="299.8" font-size="22.82" fill="#e8e8e8">S</text>
<text transform="matrix(1.0000 0 0 1 25.97 0)" y="343.5" font-size="22.38" fill="#ffffff">1</text>
<text transform="matrix(1.0000 0 0 1 26.28 0)" y="383.5" font-size="22.38" fill="#e8e8e8">2</text>
<text transform="matrix(1.0000 0 0 1 26.34 0)" y="424.5" font-size="22.38" fill="#e8e8e8">3</text>
<text transform="matrix(1.0000 0 0 1 26.35 0)" y="454" font-size="22.38" fill="#e8e8e8">4</text>
<text transform="matrix(1.0000 0 0 1 26.20 0)" y="488.8" font-size="22.38" fill="#e8e8e8">6</text>
<text transform="matrix(1.0000 0 0 1 26.26 0)" y="526.5" font-size="22.38" fill="#e8e8e8">7</text>
<text transform="matrix(1.0000 0 0 1 26.28 0)" y="564.5" font-size="22.38" fill="#e8e8e8">8</text>
<text transform="matrix(1.0000 0 0 1 26.28 0)" y="603.5" font-size="22.38" fill="#e8e8e8">9</text>
<text transform="matrix(1.0000 0 0 1 19.64 0)" y="642.5" font-size="22.38" fill="#e8e8e8">10</text>
<text transform="matrix(1.0000 0 0 1 19.75 0)" y="681.5" font-size="22.38" fill="#e8e8e8">11</text>
<text transform="matrix(1.0000 0 0 1 19.76 0)" y="720.5" font-size="22.38" fill="#e8e8e8">12</text>
<text transform="matrix(1.0000 0 0 1 19.69 0)" y="759.5" font-size="22.38" fill="#e8e8e8">13</text>
<text transform="matrix(1.0000 0 0 1 19.53 0)" y="797.5" font-size="22.38" fill="#e8e8e8">14</text>
<text transform="matrix(1.0000 0 0 1 19.67 0)" y="835.5" font-size="22.38" fill="#e8e8e8">15</text>
<text transform="matrix(1.0000 0 0 1 19.69 0)" y="873.5" font-size="22.38" fill="#e8e8e8">16</text>
<text transform="matrix(1.0000 0 0 1 19.76 0)" y="911.5" font-size="22.38" fill="#e8e8e8">17</text>
<text transform="matrix(1.0000 0 0 1 19.69 0)" y="949.5" font-size="22.38" fill="#e8e8e8">18</text>
<text transform="matrix(1.0000 0 0 1 19.73 0)" y="987.5" font-size="22.38" fill="#e8e8e8">19</text>
<text transform="matrix(1.0000 0 0 1 19.93 0)" y="1027.0" font-size="22.38" fill="#e8e8e8">20</text>
<text transform="matrix(1.0000 0 0 1 20.03 0)" y="1055.1" font-size="22.38" fill="#e8e8e8">21</text>
<text transform="matrix(1.0000 0 0 1 20.05 0)" y="1082.7" font-size="22.38" fill="#e8e8e8">22</text>
<text transform="matrix(1.0000 0 0 1 19.98 0)" y="1110.8" font-size="22.38" fill="#e8e8e8">23</text>
<text transform="matrix(1.0000 0 0 1 19.82 0)" y="1138.8" font-size="22.38" fill="#e8e8e8">24</text>
<text transform="matrix(1.0000 0 0 1 19.96 0)" y="1170.9" font-size="22.38" fill="#e8e8e8">25</text>
<text transform="matrix(1.0000 0 0 1 19.98 0)" y="1198.9" font-size="22.38" fill="#e8e8e8">26</text>
<text transform="matrix(1.0000 0 0 1 20.05 0)" y="1227.0" font-size="22.38" fill="#e8e8e8">27</text>
<text transform="matrix(1.0000 0 0 1 19.97 0)" y="1255.1" font-size="22.38" fill="#e8e8e8">28</text>
<text transform="matrix(1.0000 0 0 1 20.02 0)" y="1283.0" font-size="22.38" fill="#e8e8e8">29</text>
<text transform="matrix(1.0000 0 0 1 20.06 0)" y="1311.0" font-size="22.38" fill="#e8e8e8">30</text>
<text transform="matrix(1.0000 0 0 1 20.17 0)" y="1339.1" font-size="22.38" fill="#e8e8e8">31</text>
<text transform="matrix(1.0000 0 0 1 20.19 0)" y="1367.1" font-size="22.38" fill="#e8e8e8">32</text>
<text transform="matrix(1.0000 0 0 1 20.12 0)" y="1395.2" font-size="22.38" fill="#e8e8e8">33</text>
<text transform="matrix(1.0000 0 0 1 19.95 0)" y="1423.2" font-size="22.38" fill="#e8e8e8">34</text>
<text transform="matrix(1.0000 0 0 1 20.09 0)" y="1451.3" font-size="22.38" fill="#e8e8e8">35</text>
<text transform="matrix(1.0000 0 0 1 20.12 0)" y="1478.9" font-size="22.38" fill="#e8e8e8">36</text>
<text transform="matrix(1.0000 0 0 1 20.19 0)" y="1506.5" font-size="22.38" fill="#e8e8e8">37</text>
<text transform="matrix(1.0000 0 0 1 20.11 0)" y="1545.5" font-size="22.38" fill="#e8e8e8">38</text>
<text transform="matrix(1.0000 0 0 1 20.16 0)" y="1573.8" font-size="22.38" fill="#e8e8e8">39</text>
<text transform="matrix(1.0000 0 0 1 20.23 0)" y="1601.5" font-size="22.38" fill="#e8e8e8">40</text>
<text transform="matrix(1.0000 0 0 1 20.34 0)" y="1629.8" font-size="22.38" fill="#e8e8e8">41</text>
<text transform="matrix(1.0000 0 0 1 20.36 0)" y="1657.5" font-size="22.38" fill="#e8e8e8">42</text>
<rect x="54" y="305" width="2806.5" height="1365" fill="#ffffff"/>
<line x1="53.5" y1="349" x2="53.5" y2="1670" stroke="#8a8a8a" stroke-width="1"/>
<line x1="54" y1="459.5" x2="2860" y2="459.5" stroke="#8f8f8f" stroke-width="1"/>
<defs><clipPath id="sc"><rect x="54" y="305" width="2806.5" height="1365"/></clipPath></defs><g clip-path="url(#sc)">
<text transform="matrix(1.0190 0 0 1 88.85 0)" y="341.4" font-size="40.41" font-weight="700" fill="#222222" stroke="#222" stroke-width="1.3">Benchmark KPIs</text>
<text transform="matrix(1.0498 0 0 1 88.63 0)" y="381.4" font-size="33.43" font-weight="700" fill="#000000" stroke="#000" stroke-width="1.1">ABC Company Inc.</text>
<text transform="matrix(1.0186 0 0 1 87.06 0)" y="417.7" font-size="22.38" font-weight="700" fill="#2a6fdb" stroke="#2a6fdb" stroke-width="0.7">Go to Table of Contents</text>
<rect x="87.7" y="419.5" width="257" height="2" fill="#2a6fdb"/>
<rect x="82" y="459.6" width="1389" height="35.19999999999999" fill="#4b50d0"/>
<text transform="matrix(0.9861 0 0 1 659.32 0)" y="487.3" font-size="30.09" font-weight="700" fill="#ffffff" stroke="#fff" stroke-width="0.6">Benchmark KPIs</text>
<rect x="1508" y="459.6" width="1315" height="35.19999999999999" fill="#4b50d0"/>
<text transform="matrix(0.9897 0 0 1 2047.53 0)" y="487.4" font-size="30.09" font-weight="700" fill="#ffffff" stroke="#fff" stroke-width="0.6">Gross Margin, %</text>
<rect x="82" y="993.2" width="1389" height="39.799999999999955" fill="#4b50d0"/>
<text transform="matrix(1.0113 0 0 1 609.05 0)" y="1023.3" font-size="30.09" font-weight="700" fill="#ffffff" stroke="#fff" stroke-width="0.6">Contribution Margin, %</text>
<rect x="1508" y="993.2" width="1315" height="39.799999999999955" fill="#4b50d0"/>
<text transform="matrix(1.0324 0 0 1 2084.92 0)" y="1023.3" font-size="30.09" font-weight="700" fill="#ffffff" stroke="#fff" stroke-width="0.6">EBITDA, %</text>
<rect x="82" y="1512" width="1389" height="39.59999999999991" fill="#4b50d0"/>
<text transform="matrix(1.0806 0 0 1 715.83 0)" y="1541.5" font-size="30.09" font-weight="700" fill="#ffffff" stroke="#fff" stroke-width="0.6">EBIT, %</text>
<rect x="1508" y="1512" width="1315" height="39.59999999999991" fill="#4b50d0"/>
<text transform="matrix(1.0291 0 0 1 2000.93 0)" y="1541.5" font-size="30.09" font-weight="700" fill="#ffffff" stroke="#fff" stroke-width="0.6">Net Profit After Tax, %</text>
<rect x="622.6" y="533.2" width="847.7" height="36.8" fill="#6b74e8"/>
<line x1="810.7" y1="533.2" x2="810.7" y2="570" stroke="#ffffff" stroke-width="1.2"/>
<line x1="942.2" y1="533.2" x2="942.2" y2="570" stroke="#ffffff" stroke-width="1.2"/>
<line x1="1074.4" y1="533.2" x2="1074.4" y2="570" stroke="#ffffff" stroke-width="1.2"/>
<line x1="1206.3" y1="533.2" x2="1206.3" y2="570" stroke="#ffffff" stroke-width="1.2"/>
<line x1="1338.1" y1="533.2" x2="1338.1" y2="570" stroke="#ffffff" stroke-width="1.2"/>
<text transform="matrix(1.0682 0 0 1 667.51 0)" y="559.7" font-size="22.97" font-weight="700" fill="#ffffff" stroke="#fff" stroke-width="0.5">Industry</text>
<text transform="matrix(1.0877 0 0 1 848.68 0)" y="559.7" font-size="22.97" font-weight="700" fill="#ffffff" stroke="#fff" stroke-width="0.5">2026</text>
<text transform="matrix(1.0917 0 0 1 980.53 0)" y="559.7" font-size="22.97" font-weight="700" fill="#ffffff" stroke="#fff" stroke-width="0.5">2027</text>
<text transform="matrix(1.0850 0 0 1 1112.59 0)" y="559.7" font-size="22.97" font-weight="700" fill="#ffffff" stroke="#fff" stroke-width="0.5">2028</text>
<text transform="matrix(1.0882 0 0 1 1244.43 0)" y="559.7" font-size="22.97" font-weight="700" fill="#ffffff" stroke="#fff" stroke-width="0.5">2029</text>
<text transform="matrix(1.0902 0 0 1 1376.43 0)" y="559.7" font-size="22.97" font-weight="700" fill="#ffffff" stroke="#fff" stroke-width="0.5">2030</text>
<rect x="622.6" y="570" width="188.1" height="195" fill="#fff064"/>
<line x1="622.6" y1="609" x2="1470.3" y2="609" stroke="#d5d8e6" stroke-width="1.2"/>
<line x1="622.6" y1="648" x2="1470.3" y2="648" stroke="#d5d8e6" stroke-width="1.2"/>
<line x1="622.6" y1="687" x2="1470.3" y2="687" stroke="#d5d8e6" stroke-width="1.2"/>
<line x1="622.6" y1="726" x2="1470.3" y2="726" stroke="#d5d8e6" stroke-width="1.2"/>
<line x1="622.6" y1="765" x2="1470.3" y2="765" stroke="#d5d8e6" stroke-width="1.2"/>
<line x1="622.6" y1="570" x2="622.6" y2="765" stroke="#d5d8e6" stroke-width="1.2"/>
<line x1="810.7" y1="570" x2="810.7" y2="765" stroke="#d5d8e6" stroke-width="1.2"/>
<line x1="942.2" y1="570" x2="942.2" y2="765" stroke="#d5d8e6" stroke-width="1.2"/>
<line x1="1074.4" y1="570" x2="1074.4" y2="765" stroke="#d5d8e6" stroke-width="1.2"/>
<line x1="1206.3" y1="570" x2="1206.3" y2="765" stroke="#d5d8e6" stroke-width="1.2"/>
<line x1="1338.1" y1="570" x2="1338.1" y2="765" stroke="#d5d8e6" stroke-width="1.2"/>
<line x1="1470.3" y1="570" x2="1470.3" y2="765" stroke="#d5d8e6" stroke-width="1.2"/>
<text transform="matrix(1.0512 0 0 1 86.84 0)" y="597.3" font-size="22.24" font-weight="700" fill="#1c1c1c" stroke="#1c1c1c" stroke-width="0.5">Gross margin, %</text>
<text transform="matrix(1.0000 0 0 1 684.03 0)" y="597.3" font-size="23.11" fill="#111111">40.0%</text>
<text transform="matrix(1.0000 0 0 1 843.60 0)" y="597.3" font-size="23.11" fill="#111111">86.0%</text>
<text transform="matrix(1.0000 0 0 1 975.45 0)" y="597.3" font-size="23.11" fill="#111111">86.3%</text>
<text transform="matrix(1.0000 0 0 1 1107.50 0)" y="597.3" font-size="23.11" fill="#111111">86.7%</text>
<text transform="matrix(1.0000 0 0 1 1239.35 0)" y="597.3" font-size="23.11" fill="#111111">87.1%</text>
<text transform="matrix(1.0000 0 0 1 1371.35 0)" y="597.3" font-size="23.11" fill="#111111">87.5%</text>
<text transform="matrix(1.0760 0 0 1 86.82 0)" y="636.7" font-size="22.24" font-weight="700" fill="#1c1c1c" stroke="#1c1c1c" stroke-width="0.5">Contribution margin, %</text>
<text transform="matrix(1.0000 0 0 1 683.86 0)" y="636.7" font-size="23.11" fill="#111111">30.0%</text>
<text transform="matrix(1.0000 0 0 1 843.60 0)" y="636.7" font-size="23.11" fill="#111111">80.5%</text>
<text transform="matrix(1.0000 0 0 1 975.45 0)" y="636.7" font-size="23.11" fill="#111111">81.0%</text>
<text transform="matrix(1.0000 0 0 1 1107.50 0)" y="636.7" font-size="23.11" fill="#111111">81.7%</text>
<text transform="matrix(1.0000 0 0 1 1239.35 0)" y="636.7" font-size="23.11" fill="#111111">82.3%</text>
<text transform="matrix(1.0000 0 0 1 1371.35 0)" y="636.7" font-size="23.11" fill="#111111">83.0%</text>
<text transform="matrix(1.0715 0 0 1 87.21 0)" y="675.4" font-size="22.24" font-weight="700" fill="#1c1c1c" stroke="#1c1c1c" stroke-width="0.5">EBITDA, %</text>
<text transform="matrix(1.0000 0 0 1 683.72 0)" y="675.4" font-size="23.11" fill="#111111">20.0%</text>
<text transform="matrix(1.0000 0 0 1 843.52 0)" y="675.4" font-size="23.11" fill="#111111">28.7%</text>
<text transform="matrix(1.0000 0 0 1 975.51 0)" y="675.4" font-size="23.11" fill="#111111">36.5%</text>
<text transform="matrix(1.0000 0 0 1 1107.56 0)" y="675.4" font-size="23.11" fill="#111111">39.7%</text>
<text transform="matrix(1.0000 0 0 1 1239.58 0)" y="675.4" font-size="23.11" fill="#111111">41.8%</text>
<text transform="matrix(1.0000 0 0 1 1371.58 0)" y="675.4" font-size="23.11" fill="#111111">44.3%</text>
<text transform="matrix(1.1052 0 0 1 87.16 0)" y="714.8" font-size="22.24" font-weight="700" fill="#1c1c1c" stroke="#1c1c1c" stroke-width="0.5">EBIT, %</text>
<text transform="matrix(1.0000 0 0 1 683.42 0)" y="714.8" font-size="23.11" fill="#111111">15.0%</text>
<text transform="matrix(1.0000 0 0 1 843.52 0)" y="714.8" font-size="23.11" fill="#111111">27.4%</text>
<text transform="matrix(1.0000 0 0 1 975.51 0)" y="714.8" font-size="23.11" fill="#111111">35.2%</text>
<text transform="matrix(1.0000 0 0 1 1107.56 0)" y="714.8" font-size="23.11" fill="#111111">38.7%</text>
<text transform="matrix(1.0000 0 0 1 1239.58 0)" y="714.8" font-size="23.11" fill="#111111">40.9%</text>
<text transform="matrix(1.0000 0 0 1 1371.58 0)" y="714.8" font-size="23.11" fill="#111111">43.5%</text>
<text transform="matrix(1.0709 0 0 1 87.21 0)" y="753.5" font-size="22.24" font-weight="700" fill="#1c1c1c" stroke="#1c1c1c" stroke-width="0.5">Net Profit After Tax, %</text>
<text transform="matrix(1.0000 0 0 1 683.42 0)" y="753.5" font-size="23.11" fill="#111111">10.0%</text>
<text transform="matrix(1.0000 0 0 1 843.22 0)" y="753.5" font-size="23.11" fill="#111111">19.1%</text>
<text transform="matrix(1.0000 0 0 1 975.37 0)" y="753.5" font-size="23.11" fill="#111111">25.3%</text>
<text transform="matrix(1.0000 0 0 1 1107.42 0)" y="753.5" font-size="23.11" fill="#111111">28.3%</text>
<text transform="matrix(1.0000 0 0 1 1239.41 0)" y="753.5" font-size="23.11" fill="#111111">30.2%</text>
<text transform="matrix(1.0000 0 0 1 1371.41 0)" y="753.5" font-size="23.11" fill="#111111">32.3%</text>
<polygon points="1735.90,931.60 1735.90,628.54 1977.05,627.48 2218.20,626.07 2459.35,624.66 2700.50,623.25 2700.50,931.60" fill="#a4d8f2"/>
<text transform="matrix(1.2000 0 0 1 1555.09 0)" y="939.4" font-size="22.67" font-weight="700" fill="#000000" stroke="#000" stroke-width="0.5">0%</text>
<line x1="1615.7" y1="896.36" x2="2821.6" y2="896.36" stroke="#58a6cf" stroke-width="1.3"/>
<text transform="matrix(1.2000 0 0 1 1539.96 0)" y="904.16" font-size="22.67" font-weight="700" fill="#000000" stroke="#000" stroke-width="0.5">10%</text>
<line x1="1615.7" y1="861.12" x2="2821.6" y2="861.12" stroke="#58a6cf" stroke-width="1.3"/>
<text transform="matrix(1.2000 0 0 1 1539.96 0)" y="868.92" font-size="22.67" font-weight="700" fill="#000000" stroke="#000" stroke-width="0.5">20%</text>
<line x1="1615.7" y1="825.88" x2="2821.6" y2="825.88" stroke="#58a6cf" stroke-width="1.3"/>
<text transform="matrix(1.2000 0 0 1 1539.96 0)" y="833.68" font-size="22.67" font-weight="700" fill="#000000" stroke="#000" stroke-width="0.5">30%</text>
<line x1="1615.7" y1="790.64" x2="2821.6" y2="790.64" stroke="#58a6cf" stroke-width="1.3"/>
<text transform="matrix(1.2000 0 0 1 1539.96 0)" y="798.4399999999999" font-size="22.67" font-weight="700" fill="#000000" stroke="#000" stroke-width="0.5">40%</text>
<line x1="1615.7" y1="755.4000000000001" x2="2821.6" y2="755.4000000000001" stroke="#58a6cf" stroke-width="1.3"/>
<text transform="matrix(1.2000 0 0 1 1539.96 0)" y="763.2" font-size="22.67" font-weight="700" fill="#000000" stroke="#000" stroke-width="0.5">50%</text>
<line x1="1615.7" y1="720.1600000000001" x2="2821.6" y2="720.1600000000001" stroke="#58a6cf" stroke-width="1.3"/>
<text transform="matrix(1.2000 0 0 1 1539.96 0)" y="727.96" font-size="22.67" font-weight="700" fill="#000000" stroke="#000" stroke-width="0.5">60%</text>
<line x1="1615.7" y1="684.9200000000001" x2="2821.6" y2="684.9200000000001" stroke="#58a6cf" stroke-width="1.3"/>
<text transform="matrix(1.2000 0 0 1 1539.96 0)" y="692.72" font-size="22.67" font-weight="700" fill="#000000" stroke="#000" stroke-width="0.5">70%</text>
<line x1="1615.7" y1="649.6800000000001" x2="2821.6" y2="649.6800000000001" stroke="#58a6cf" stroke-width="1.3"/>
<text transform="matrix(1.2000 0 0 1 1539.96 0)" y="657.48" font-size="22.67" font-weight="700" fill="#000000" stroke="#000" stroke-width="0.5">80%</text>
<line x1="1615.7" y1="614.44" x2="2821.6" y2="614.44" stroke="#58a6cf" stroke-width="1.3"/>
<text transform="matrix(1.2000 0 0 1 1539.96 0)" y="622.24" font-size="22.67" font-weight="700" fill="#000000" stroke="#000" stroke-width="0.5">90%</text>
<line x1="1615.7" y1="579.2" x2="2821.6" y2="579.2" stroke="#58a6cf" stroke-width="1.3"/>
<text transform="matrix(1.2000 0 0 1 1524.83 0)" y="587.0" font-size="22.67" font-weight="700" fill="#000000" stroke="#000" stroke-width="0.5">100%</text>
<polyline points="1735.90,628.54 1977.05,627.48 2218.20,626.07 2459.35,624.66 2700.50,623.25" fill="none" stroke="#4db3e6" stroke-width="6" stroke-linejoin="round" stroke-linecap="round"/>
<circle cx="1735.90" cy="628.54" r="7.6" fill="#4db3e6"/>
<circle cx="1977.05" cy="627.48" r="7.6" fill="#4db3e6"/>
<circle cx="2218.20" cy="626.07" r="7.6" fill="#4db3e6"/>
<circle cx="2459.35" cy="624.66" r="7.6" fill="#4db3e6"/>
<circle cx="2700.50" cy="623.25" r="7.6" fill="#4db3e6"/>
<line x1="1738.60" y1="790.64" x2="2700.50" y2="790.64" stroke="#ed7d31" stroke-width="5.5" stroke-linecap="round" stroke-dasharray="18.3 25.5"/>
<circle cx="1735.90" cy="790.64" r="7.5" fill="#ed7d31"/>
<circle cx="1977.05" cy="790.64" r="7.5" fill="#ed7d31"/>
<circle cx="2218.20" cy="790.64" r="7.5" fill="#ed7d31"/>
<circle cx="2459.35" cy="790.64" r="7.5" fill="#ed7d31"/>
<circle cx="2700.50" cy="790.64" r="7.5" fill="#ed7d31"/>
<text transform="matrix(1.1000 0 0 1 1708.71 0)" y="968.6" font-size="22.24" font-weight="700" fill="#000000" stroke="#000" stroke-width="0.5">2026</text>
<text transform="matrix(1.1000 0 0 1 1949.95 0)" y="968.6" font-size="22.24" font-weight="700" fill="#000000" stroke="#000" stroke-width="0.5">2027</text>
<text transform="matrix(1.1000 0 0 1 2190.94 0)" y="968.6" font-size="22.24" font-weight="700" fill="#000000" stroke="#000" stroke-width="0.5">2028</text>
<text transform="matrix(1.1000 0 0 1 2432.17 0)" y="968.6" font-size="22.24" font-weight="700" fill="#000000" stroke="#000" stroke-width="0.5">2029</text>
<text transform="matrix(1.1000 0 0 1 2673.37 0)" y="968.6" font-size="22.24" font-weight="700" fill="#000000" stroke="#000" stroke-width="0.5">2030</text>
<line x1="1748.3" y1="525" x2="1818.5" y2="525" stroke="#4db3e6" stroke-width="5.8" stroke-linecap="round"/>
<circle cx="1781.8" cy="525" r="6.2" fill="#4db3e6"/>
<line x1="2224.15" y1="525" x2="2242.7500000000005" y2="525" stroke="#ed7d31" stroke-width="5.7" stroke-linecap="round"/>
<line x1="2268.75" y1="525" x2="2286.85" y2="525" stroke="#ed7d31" stroke-width="5.7" stroke-linecap="round"/>
<circle cx="2258.3" cy="525" r="6.4" fill="#ed7d31"/>
<text transform="matrix(1.0218 0 0 1 1825.62 0)" y="532.1" font-size="23.40" font-weight="700" fill="#000000" stroke="#000" stroke-width="0.5">Gross margin, %</text>
<text transform="matrix(1.0333 0 0 1 2301.38 0)" y="532.1" font-size="23.40" font-weight="700" fill="#000000" stroke="#000" stroke-width="0.5">Industry Gross margin, %</text>
<polygon points="321.00,1461.80 321.00,1153.04 573.40,1151.12 825.80,1148.44 1078.20,1146.13 1330.60,1143.45 1330.60,1461.80" fill="#a4d8f2"/>
<text transform="matrix(1.2000 0 0 1 133.89 0)" y="1469.6" font-size="22.67" font-weight="700" fill="#000000" stroke="#000" stroke-width="0.5">0%</text>
<line x1="194.4" y1="1423.4444444444443" x2="1456.7" y2="1423.4444444444443" stroke="#58a6cf" stroke-width="1.3"/>
<text transform="matrix(1.2000 0 0 1 118.76 0)" y="1431.2444444444443" font-size="22.67" font-weight="700" fill="#000000" stroke="#000" stroke-width="0.5">10%</text>
<line x1="194.4" y1="1385.0888888888887" x2="1456.7" y2="1385.0888888888887" stroke="#58a6cf" stroke-width="1.3"/>
<text transform="matrix(1.2000 0 0 1 118.76 0)" y="1392.8888888888887" font-size="22.67" font-weight="700" fill="#000000" stroke="#000" stroke-width="0.5">20%</text>
<line x1="194.4" y1="1346.7333333333333" x2="1456.7" y2="1346.7333333333333" stroke="#58a6cf" stroke-width="1.3"/>
<text transform="matrix(1.2000 0 0 1 118.76 0)" y="1354.5333333333333" font-size="22.67" font-weight="700" fill="#000000" stroke="#000" stroke-width="0.5">30%</text>
<line x1="194.4" y1="1308.3777777777777" x2="1456.7" y2="1308.3777777777777" stroke="#58a6cf" stroke-width="1.3"/>
<text transform="matrix(1.2000 0 0 1 118.76 0)" y="1316.1777777777777" font-size="22.67" font-weight="700" fill="#000000" stroke="#000" stroke-width="0.5">40%</text>
<line x1="194.4" y1="1270.0222222222221" x2="1456.7" y2="1270.0222222222221" stroke="#58a6cf" stroke-width="1.3"/>
<text transform="matrix(1.2000 0 0 1 118.76 0)" y="1277.822222222222" font-size="22.67" font-weight="700" fill="#000000" stroke="#000" stroke-width="0.5">50%</text>
<line x1="194.4" y1="1231.6666666666665" x2="1456.7" y2="1231.6666666666665" stroke="#58a6cf" stroke-width="1.3"/>
<text transform="matrix(1.2000 0 0 1 118.76 0)" y="1239.4666666666665" font-size="22.67" font-weight="700" fill="#000000" stroke="#000" stroke-width="0.5">60%</text>
<line x1="194.4" y1="1193.3111111111111" x2="1456.7" y2="1193.3111111111111" stroke="#58a6cf" stroke-width="1.3"/>
<text transform="matrix(1.2000 0 0 1 118.76 0)" y="1201.111111111111" font-size="22.67" font-weight="700" fill="#000000" stroke="#000" stroke-width="0.5">70%</text>
<line x1="194.4" y1="1154.9555555555555" x2="1456.7" y2="1154.9555555555555" stroke="#58a6cf" stroke-width="1.3"/>
<text transform="matrix(1.2000 0 0 1 118.76 0)" y="1162.7555555555555" font-size="22.67" font-weight="700" fill="#000000" stroke="#000" stroke-width="0.5">80%</text>
<line x1="194.4" y1="1116.6" x2="1456.7" y2="1116.6" stroke="#58a6cf" stroke-width="1.3"/>
<text transform="matrix(1.2000 0 0 1 118.76 0)" y="1124.3999999999999" font-size="22.67" font-weight="700" fill="#000000" stroke="#000" stroke-width="0.5">90%</text>
<polyline points="321.00,1153.04 573.40,1151.12 825.80,1148.44 1078.20,1146.13 1330.60,1143.45" fill="none" stroke="#4db3e6" stroke-width="6" stroke-linejoin="round" stroke-linecap="round"/>
<circle cx="321.00" cy="1153.04" r="7.6" fill="#4db3e6"/>
<circle cx="573.40" cy="1151.12" r="7.6" fill="#4db3e6"/>
<circle cx="825.80" cy="1148.44" r="7.6" fill="#4db3e6"/>
<circle cx="1078.20" cy="1146.13" r="7.6" fill="#4db3e6"/>
<circle cx="1330.60" cy="1143.45" r="7.6" fill="#4db3e6"/>
<line x1="323.70" y1="1346.73" x2="1330.60" y2="1346.73" stroke="#ed7d31" stroke-width="5.5" stroke-linecap="round" stroke-dasharray="18.3 25.5"/>
<circle cx="321.00" cy="1346.73" r="7.5" fill="#ed7d31"/>
<circle cx="573.40" cy="1346.73" r="7.5" fill="#ed7d31"/>
<circle cx="825.80" cy="1346.73" r="7.5" fill="#ed7d31"/>
<circle cx="1078.20" cy="1346.73" r="7.5" fill="#ed7d31"/>
<circle cx="1330.60" cy="1346.73" r="7.5" fill="#ed7d31"/>
<text transform="matrix(1.1000 0 0 1 293.81 0)" y="1498.8" font-size="22.24" font-weight="700" fill="#000000" stroke="#000" stroke-width="0.5">2026</text>
<text transform="matrix(1.1000 0 0 1 546.30 0)" y="1498.8" font-size="22.24" font-weight="700" fill="#000000" stroke="#000" stroke-width="0.5">2027</text>
<text transform="matrix(1.1000 0 0 1 798.54 0)" y="1498.8" font-size="22.24" font-weight="700" fill="#000000" stroke="#000" stroke-width="0.5">2028</text>
<text transform="matrix(1.1000 0 0 1 1051.02 0)" y="1498.8" font-size="22.24" font-weight="700" fill="#000000" stroke="#000" stroke-width="0.5">2029</text>
<text transform="matrix(1.1000 0 0 1 1303.47 0)" y="1498.8" font-size="22.24" font-weight="700" fill="#000000" stroke="#000" stroke-width="0.5">2030</text>
<line x1="290.5" y1="1062.9" x2="359.4" y2="1062.9" stroke="#4db3e6" stroke-width="5.8" stroke-linecap="round"/>
<circle cx="323.2" cy="1062.9" r="6.2" fill="#4db3e6"/>
<line x1="817.35" y1="1062.9" x2="834.4499999999999" y2="1062.9" stroke="#ed7d31" stroke-width="5.7" stroke-linecap="round"/>
<line x1="860.45" y1="1062.9" x2="879.85" y2="1062.9" stroke="#ed7d31" stroke-width="5.7" stroke-linecap="round"/>
<circle cx="850" cy="1062.9" r="6.4" fill="#ed7d31"/>
<text transform="matrix(1.0326 0 0 1 367.51 0)" y="1070.0" font-size="23.40" font-weight="700" fill="#000000" stroke="#000" stroke-width="0.5">Contribution margin, %</text>
<text transform="matrix(1.0413 0 0 1 893.37 0)" y="1070.0" font-size="23.40" font-weight="700" fill="#000000" stroke="#000" stroke-width="0.5">Industry Contribution margin, %</text>
<polygon points="1735.90,1461.80 1735.90,1263.31 1977.05,1209.37 2218.20,1187.23 2459.35,1172.71 2700.50,1155.42 2700.50,1461.80" fill="#a4d8f2"/>
<text transform="matrix(1.2000 0 0 1 1555.09 0)" y="1469.6" font-size="22.67" font-weight="700" fill="#000000" stroke="#000" stroke-width="0.5">0%</text>
<line x1="1615.7" y1="1427.22" x2="2821.6" y2="1427.22" stroke="#58a6cf" stroke-width="1.3"/>
<text transform="matrix(1.2000 0 0 1 1555.09 0)" y="1435.02" font-size="22.67" font-weight="700" fill="#000000" stroke="#000" stroke-width="0.5">5%</text>
<line x1="1615.7" y1="1392.6399999999999" x2="2821.6" y2="1392.6399999999999" stroke="#58a6cf" stroke-width="1.3"/>
<text transform="matrix(1.2000 0 0 1 1539.96 0)" y="1400.4399999999998" font-size="22.67" font-weight="700" fill="#000000" stroke="#000" stroke-width="0.5">10%</text>
<line x1="1615.7" y1="1358.06" x2="2821.6" y2="1358.06" stroke="#58a6cf" stroke-width="1.3"/>
<text transform="matrix(1.2000 0 0 1 1539.96 0)" y="1365.86" font-size="22.67" font-weight="700" fill="#000000" stroke="#000" stroke-width="0.5">15%</text>
<line x1="1615.7" y1="1323.48" x2="2821.6" y2="1323.48" stroke="#58a6cf" stroke-width="1.3"/>
<text transform="matrix(1.2000 0 0 1 1539.96 0)" y="1331.28" font-size="22.67" font-weight="700" fill="#000000" stroke="#000" stroke-width="0.5">20%</text>
<line x1="1615.7" y1="1288.9" x2="2821.6" y2="1288.9" stroke="#58a6cf" stroke-width="1.3"/>
<text transform="matrix(1.2000 0 0 1 1539.96 0)" y="1296.7" font-size="22.67" font-weight="700" fill="#000000" stroke="#000" stroke-width="0.5">25%</text>
<line x1="1615.7" y1="1254.32" x2="2821.6" y2="1254.32" stroke="#58a6cf" stroke-width="1.3"/>
<text transform="matrix(1.2000 0 0 1 1539.96 0)" y="1262.12" font-size="22.67" font-weight="700" fill="#000000" stroke="#000" stroke-width="0.5">30%</text>
<line x1="1615.7" y1="1219.74" x2="2821.6" y2="1219.74" stroke="#58a6cf" stroke-width="1.3"/>
<text transform="matrix(1.2000 0 0 1 1539.96 0)" y="1227.54" font-size="22.67" font-weight="700" fill="#000000" stroke="#000" stroke-width="0.5">35%</text>
<line x1="1615.7" y1="1185.1599999999999" x2="2821.6" y2="1185.1599999999999" stroke="#58a6cf" stroke-width="1.3"/>
<text transform="matrix(1.2000 0 0 1 1539.96 0)" y="1192.9599999999998" font-size="22.67" font-weight="700" fill="#000000" stroke="#000" stroke-width="0.5">40%</text>
<line x1="1615.7" y1="1150.58" x2="2821.6" y2="1150.58" stroke="#58a6cf" stroke-width="1.3"/>
<text transform="matrix(1.2000 0 0 1 1539.96 0)" y="1158.3799999999999" font-size="22.67" font-weight="700" fill="#000000" stroke="#000" stroke-width="0.5">45%</text>
<line x1="1615.7" y1="1116.0" x2="2821.6" y2="1116.0" stroke="#58a6cf" stroke-width="1.3"/>
<text transform="matrix(1.2000 0 0 1 1539.96 0)" y="1123.8" font-size="22.67" font-weight="700" fill="#000000" stroke="#000" stroke-width="0.5">50%</text>
<polyline points="1735.90,1263.31 1977.05,1209.37 2218.20,1187.23 2459.35,1172.71 2700.50,1155.42" fill="none" stroke="#4db3e6" stroke-width="6" stroke-linejoin="round" stroke-linecap="round"/>
<circle cx="1735.90" cy="1263.31" r="7.6" fill="#4db3e6"/>
<circle cx="1977.05" cy="1209.37" r="7.6" fill="#4db3e6"/>
<circle cx="2218.20" cy="1187.23" r="7.6" fill="#4db3e6"/>
<circle cx="2459.35" cy="1172.71" r="7.6" fill="#4db3e6"/>
<circle cx="2700.50" cy="1155.42" r="7.6" fill="#4db3e6"/>
<line x1="1738.60" y1="1323.48" x2="2700.50" y2="1323.48" stroke="#ed7d31" stroke-width="5.5" stroke-linecap="round" stroke-dasharray="18.3 25.5"/>
<circle cx="1735.90" cy="1323.48" r="7.5" fill="#ed7d31"/>
<circle cx="1977.05" cy="1323.48" r="7.5" fill="#ed7d31"/>
<circle cx="2218.20" cy="1323.48" r="7.5" fill="#ed7d31"/>
<circle cx="2459.35" cy="1323.48" r="7.5" fill="#ed7d31"/>
<circle cx="2700.50" cy="1323.48" r="7.5" fill="#ed7d31"/>
<text transform="matrix(1.1000 0 0 1 1708.71 0)" y="1498.8" font-size="22.24" font-weight="700" fill="#000000" stroke="#000" stroke-width="0.5">2026</text>
<text transform="matrix(1.1000 0 0 1 1949.95 0)" y="1498.8" font-size="22.24" font-weight="700" fill="#000000" stroke="#000" stroke-width="0.5">2027</text>
<text transform="matrix(1.1000 0 0 1 2190.94 0)" y="1498.8" font-size="22.24" font-weight="700" fill="#000000" stroke="#000" stroke-width="0.5">2028</text>
<text transform="matrix(1.1000 0 0 1 2432.17 0)" y="1498.8" font-size="22.24" font-weight="700" fill="#000000" stroke="#000" stroke-width="0.5">2029</text>
<text transform="matrix(1.1000 0 0 1 2673.37 0)" y="1498.8" font-size="22.24" font-weight="700" fill="#000000" stroke="#000" stroke-width="0.5">2030</text>
<line x1="1793" y1="1062.7" x2="1862" y2="1062.7" stroke="#4db3e6" stroke-width="5.8" stroke-linecap="round"/>
<circle cx="1826" cy="1062.7" r="6.2" fill="#4db3e6"/>
<line x1="2246.35" y1="1062.7" x2="2264.4500000000003" y2="1062.7" stroke="#ed7d31" stroke-width="5.7" stroke-linecap="round"/>
<line x1="2290.45" y1="1062.7" x2="2308.15" y2="1062.7" stroke="#ed7d31" stroke-width="5.7" stroke-linecap="round"/>
<circle cx="2280" cy="1062.7" r="6.4" fill="#ed7d31"/>
<text transform="matrix(1.0444 0 0 1 1869.37 0)" y="1069.8" font-size="23.40" font-weight="700" fill="#000000" stroke="#000" stroke-width="0.5">EBITDA, %</text>
<text transform="matrix(1.0481 0 0 1 2322.36 0)" y="1069.8" font-size="23.40" font-weight="700" fill="#000000" stroke="#000" stroke-width="0.5">Industry EBITDA, %</text>
<polygon points="321.00,1980.30 321.00,1790.80 573.40,1736.86 825.80,1712.65 1078.20,1697.44 1330.60,1679.45 1330.60,1980.30" fill="#a4d8f2"/>
<line x1="194.4" y1="1945.72" x2="1456.7" y2="1945.72" stroke="#58a6cf" stroke-width="1.3"/>
<line x1="194.4" y1="1911.1399999999999" x2="1456.7" y2="1911.1399999999999" stroke="#58a6cf" stroke-width="1.3"/>
<line x1="194.4" y1="1876.56" x2="1456.7" y2="1876.56" stroke="#58a6cf" stroke-width="1.3"/>
<line x1="194.4" y1="1841.98" x2="1456.7" y2="1841.98" stroke="#58a6cf" stroke-width="1.3"/>
<line x1="194.4" y1="1807.4" x2="1456.7" y2="1807.4" stroke="#58a6cf" stroke-width="1.3"/>
<line x1="194.4" y1="1772.82" x2="1456.7" y2="1772.82" stroke="#58a6cf" stroke-width="1.3"/>
<line x1="194.4" y1="1738.24" x2="1456.7" y2="1738.24" stroke="#58a6cf" stroke-width="1.3"/>
<line x1="194.4" y1="1703.6599999999999" x2="1456.7" y2="1703.6599999999999" stroke="#58a6cf" stroke-width="1.3"/>
<line x1="194.4" y1="1669.08" x2="1456.7" y2="1669.08" stroke="#58a6cf" stroke-width="1.3"/>
<text transform="matrix(1.2000 0 0 1 118.76 0)" y="1676.8799999999999" font-size="22.67" font-weight="700" fill="#000000" stroke="#000" stroke-width="0.5">45%</text>
<line x1="194.4" y1="1634.5" x2="1456.7" y2="1634.5" stroke="#58a6cf" stroke-width="1.3"/>
<text transform="matrix(1.2000 0 0 1 118.76 0)" y="1642.3" font-size="22.67" font-weight="700" fill="#000000" stroke="#000" stroke-width="0.5">50%</text>
<polyline points="321.00,1790.80 573.40,1736.86 825.80,1712.65 1078.20,1697.44 1330.60,1679.45" fill="none" stroke="#4db3e6" stroke-width="6" stroke-linejoin="round" stroke-linecap="round"/>
<circle cx="321.00" cy="1790.80" r="7.6" fill="#4db3e6"/>
<circle cx="573.40" cy="1736.86" r="7.6" fill="#4db3e6"/>
<circle cx="825.80" cy="1712.65" r="7.6" fill="#4db3e6"/>
<circle cx="1078.20" cy="1697.44" r="7.6" fill="#4db3e6"/>
<circle cx="1330.60" cy="1679.45" r="7.6" fill="#4db3e6"/>
<line x1="323.70" y1="1876.56" x2="1330.60" y2="1876.56" stroke="#ed7d31" stroke-width="5.5" stroke-linecap="round" stroke-dasharray="18.3 25.5"/>
<circle cx="321.00" cy="1876.56" r="7.5" fill="#ed7d31"/>
<circle cx="573.40" cy="1876.56" r="7.5" fill="#ed7d31"/>
<circle cx="825.80" cy="1876.56" r="7.5" fill="#ed7d31"/>
<circle cx="1078.20" cy="1876.56" r="7.5" fill="#ed7d31"/>
<circle cx="1330.60" cy="1876.56" r="7.5" fill="#ed7d31"/>
<line x1="406.4" y1="1580.9" x2="475.4" y2="1580.9" stroke="#4db3e6" stroke-width="5.8" stroke-linecap="round"/>
<circle cx="440.5" cy="1580.9" r="6.2" fill="#4db3e6"/>
<line x1="875.45" y1="1580.9" x2="893.4499999999999" y2="1580.9" stroke="#ed7d31" stroke-width="5.7" stroke-linecap="round"/>
<line x1="919.45" y1="1580.9" x2="937.85" y2="1580.9" stroke="#ed7d31" stroke-width="5.7" stroke-linecap="round"/>
<circle cx="909" cy="1580.9" r="6.4" fill="#ed7d31"/>
<text transform="matrix(1.0691 0 0 1 483.43 0)" y="1588.0" font-size="23.40" font-weight="700" fill="#000000" stroke="#000" stroke-width="0.5">EBIT, %</text>
<text transform="matrix(1.0689 0 0 1 951.33 0)" y="1588.0" font-size="23.40" font-weight="700" fill="#000000" stroke="#000" stroke-width="0.5">Industry EBIT, %</text>
<polygon points="1735.90,1980.30 1735.90,1791.59 1977.05,1730.34 2218.20,1700.70 2459.35,1681.92 2700.50,1661.18 2700.50,1980.30" fill="#a4d8f2"/>
<line x1="1615.7" y1="1930.8999999999999" x2="2821.6" y2="1930.8999999999999" stroke="#58a6cf" stroke-width="1.3"/>
<line x1="1615.7" y1="1881.5" x2="2821.6" y2="1881.5" stroke="#58a6cf" stroke-width="1.3"/>
<line x1="1615.7" y1="1832.1" x2="2821.6" y2="1832.1" stroke="#58a6cf" stroke-width="1.3"/>
<line x1="1615.7" y1="1782.7" x2="2821.6" y2="1782.7" stroke="#58a6cf" stroke-width="1.3"/>
<line x1="1615.7" y1="1733.3" x2="2821.6" y2="1733.3" stroke="#58a6cf" stroke-width="1.3"/>
<line x1="1615.7" y1="1683.9" x2="2821.6" y2="1683.9" stroke="#58a6cf" stroke-width="1.3"/>
<text transform="matrix(1.2000 0 0 1 1539.96 0)" y="1691.7" font-size="22.67" font-weight="700" fill="#000000" stroke="#000" stroke-width="0.5">30%</text>
<line x1="1615.7" y1="1634.5" x2="2821.6" y2="1634.5" stroke="#58a6cf" stroke-width="1.3"/>
<text transform="matrix(1.2000 0 0 1 1539.96 0)" y="1642.3" font-size="22.67" font-weight="700" fill="#000000" stroke="#000" stroke-width="0.5">35%</text>
<polyline points="1735.90,1791.59 1977.05,1730.34 2218.20,1700.70 2459.35,1681.92 2700.50,1661.18" fill="none" stroke="#4db3e6" stroke-width="6" stroke-linejoin="round" stroke-linecap="round"/>
<circle cx="1735.90" cy="1791.59" r="7.6" fill="#4db3e6"/>
<circle cx="1977.05" cy="1730.34" r="7.6" fill="#4db3e6"/>
<circle cx="2218.20" cy="1700.70" r="7.6" fill="#4db3e6"/>
<circle cx="2459.35" cy="1681.92" r="7.6" fill="#4db3e6"/>
<circle cx="2700.50" cy="1661.18" r="7.6" fill="#4db3e6"/>
<line x1="1738.60" y1="1881.50" x2="2700.50" y2="1881.50" stroke="#ed7d31" stroke-width="5.5" stroke-linecap="round" stroke-dasharray="18.3 25.5"/>
<circle cx="1735.90" cy="1881.50" r="7.5" fill="#ed7d31"/>
<circle cx="1977.05" cy="1881.50" r="7.5" fill="#ed7d31"/>
<circle cx="2218.20" cy="1881.50" r="7.5" fill="#ed7d31"/>
<circle cx="2459.35" cy="1881.50" r="7.5" fill="#ed7d31"/>
<circle cx="2700.50" cy="1881.50" r="7.5" fill="#ed7d31"/>
<line x1="1700" y1="1580.9" x2="1770" y2="1580.9" stroke="#4db3e6" stroke-width="5.8" stroke-linecap="round"/>
<circle cx="1733.8" cy="1580.9" r="6.2" fill="#4db3e6"/>
<line x1="2204.5499999999997" y1="1580.9" x2="2223.15" y2="1580.9" stroke="#ed7d31" stroke-width="5.7" stroke-linecap="round"/>
<line x1="2249.1499999999996" y1="1580.9" x2="2268.15" y2="1580.9" stroke="#ed7d31" stroke-width="5.7" stroke-linecap="round"/>
<circle cx="2238.7" cy="1580.9" r="6.4" fill="#ed7d31"/>
<text transform="matrix(1.0536 0 0 1 1777.35 0)" y="1588.0" font-size="23.40" font-weight="700" fill="#000000" stroke="#000" stroke-width="0.5">Net Profit After Tax, %</text>
<text transform="matrix(1.0533 0 0 1 2281.35 0)" y="1588.0" font-size="23.40" font-weight="700" fill="#000000" stroke="#000" stroke-width="0.5">Industry Net Profit After Tax, %</text>
</g>
<rect x="2860.5" y="278" width="30.5" height="1392" fill="#141414"/>
<polygon points="2876,286 2883,296 2869,296" fill="#9a9a9a"/>
<rect x="2870" y="303" width="12" height="914" rx="6" fill="#9e9e9e"/>
<polygon points="2876,1663 2883,1653 2869,1653" fill="#9a9a9a"/>
<rect x="11" y="1670" width="2880" height="48" fill="#0d0d0d"/>
<rect x="11" y="1718" width="2880" height="33" fill="#121212"/>
<line x1="11" y1="1718" x2="2891" y2="1718" stroke="#383838" stroke-width="1"/>
<path d="M54.8 1685 L46.7 1693 L54.8 1701" stroke="#9c9c9c" stroke-width="1.6" fill="none" stroke-linecap="round" stroke-linejoin="round"/>
<path d="M95.4 1685 L103.5 1693 L95.4 1701" stroke="#e0e0e0" stroke-width="1.6" fill="none" stroke-linecap="round" stroke-linejoin="round"/>
<text transform="matrix(0.9390 0 0 1 189.23 0)" y="1703.1" font-size="22.38" fill="#f2f2f2">Contents</text>
<line x1="292.6" y1="1680.4" x2="292.6" y2="1708" stroke="#7c7c7c" stroke-width="1"/>
<rect x="299" y="1676" width="128.0" height="36" rx="5" fill="#ffeb6b"/>
<text transform="matrix(0.9367 0 0 1 310.73 0)" y="1703.1" font-size="22.38" fill="#141414">Dashboard</text>
<line x1="433.5" y1="1680.4" x2="433.5" y2="1708" stroke="#7c7c7c" stroke-width="1"/>
<rect x="440.3" y="1676" width="105.5" height="36" rx="5" fill="#ffeb6b"/>
<text transform="matrix(0.8874 0 0 1 452.12 0)" y="1703.1" font-size="22.38" fill="#141414">Revenue</text>
<line x1="552.3" y1="1680.4" x2="552.3" y2="1708" stroke="#7c7c7c" stroke-width="1"/>
<rect x="559" y="1676" width="157.7" height="36" rx="5" fill="#ffeb6b"/>
<text transform="matrix(0.8396 0 0 1 571.50 0)" y="1703.1" font-size="22.38" fill="#141414">COGS &amp; OPEX</text>
<line x1="723.2" y1="1680.4" x2="723.2" y2="1708" stroke="#7c7c7c" stroke-width="1"/>
<rect x="730.5" y="1676" width="88.1" height="36" rx="5" fill="#ffeb6b"/>
<text transform="matrix(0.9157 0 0 1 742.27 0)" y="1703.1" font-size="22.38" fill="#141414">Payroll</text>
<line x1="825.1" y1="1680.4" x2="825.1" y2="1708" stroke="#7c7c7c" stroke-width="1"/>
<rect x="832" y="1676" width="86.4" height="36" rx="5" fill="#ffeb6b"/>
<text transform="matrix(0.7795 0 0 1 844.56 0)" y="1703.1" font-size="22.38" fill="#141414">CAPEX</text>
<line x1="924.9" y1="1680.4" x2="924.9" y2="1708" stroke="#7c7c7c" stroke-width="1"/>
<rect x="932" y="1676" width="112.6" height="36" rx="5" fill="#ffeb6b"/>
<text transform="matrix(0.8860 0 0 1 944.44 0)" y="1703.1" font-size="22.38" fill="#141414">CapTable</text>
<line x1="1051.1" y1="1680.4" x2="1051.1" y2="1708" stroke="#7c7c7c" stroke-width="1"/>
<rect x="1058" y="1676" width="90.0" height="36" rx="5" fill="#ffeb6b"/>
<text transform="matrix(0.9173 0 0 1 1070.41 0)" y="1703.1" font-size="22.38" fill="#141414">Capital</text>
<line x1="1154.5" y1="1680.4" x2="1154.5" y2="1708" stroke="#7c7c7c" stroke-width="1"/>
<rect x="1161" y="1676" width="42.0" height="36" rx="5" fill="#4db3e6"/>
<text transform="matrix(0.8585 0 0 1 1171.68 0)" y="1703.1" font-size="22.38" fill="#141414">IS</text>
<line x1="1209.5" y1="1680.4" x2="1209.5" y2="1708" stroke="#7c7c7c" stroke-width="1"/>
<rect x="1216" y="1676" width="47.8" height="36" rx="5" fill="#4db3e6"/>
<text transform="matrix(0.7876 0 0 1 1227.25 0)" y="1703.1" font-size="22.38" fill="#141414">CF</text>
<line x1="1270.3" y1="1680.4" x2="1270.3" y2="1708" stroke="#7c7c7c" stroke-width="1"/>
<rect x="1277" y="1676" width="47.7" height="36" rx="5" fill="#4db3e6"/>
<text transform="matrix(0.8112 0 0 1 1287.61 0)" y="1703.1" font-size="22.38" fill="#141414">BS</text>
<line x1="1331.2" y1="1680.4" x2="1331.2" y2="1708" stroke="#7c7c7c" stroke-width="1"/>
<rect x="1338" y="1676" width="114.5" height="36" rx="5" fill="#4db3e6"/>
<text transform="matrix(0.8802 0 0 1 1350.56 0)" y="1703.1" font-size="22.38" fill="#141414">Scenarios</text>
<line x1="1459.0" y1="1680.4" x2="1459.0" y2="1708" stroke="#7c7c7c" stroke-width="1"/>
<rect x="1466" y="1676" width="115.0" height="36" rx="5" fill="#4db3e6"/>
<text transform="matrix(0.9424 0 0 1 1479.36 0)" y="1703.1" font-size="22.38" fill="#141414">Valuation</text>
<line x1="1587.5" y1="1680.4" x2="1587.5" y2="1708" stroke="#7c7c7c" stroke-width="1"/>
<rect x="1593.7" y="1676" width="114.3" height="36" rx="5" fill="#4db3e6"/>
<text transform="matrix(0.9060 0 0 1 1606.23 0)" y="1703.1" font-size="22.38" fill="#141414">Summary</text>
<line x1="1714.5" y1="1680.4" x2="1714.5" y2="1708" stroke="#7c7c7c" stroke-width="1"/>
<rect x="1721.6" y="1676" width="47.4" height="36" rx="5" fill="#4db3e6"/>
<text transform="matrix(0.7945 0 0 1 1732.29 0)" y="1703.1" font-size="22.38" fill="#141414">BE</text>
<line x1="1775.5" y1="1680.4" x2="1775.5" y2="1708" stroke="#7c7c7c" stroke-width="1"/>
<rect x="1782" y="1676" width="72.3" height="36" rx="5" fill="#4db3e6"/>
<text transform="matrix(0.8222 0 0 1 1793.94 0)" y="1703.1" font-size="22.38" fill="#141414">ROIC</text>
<line x1="1860.8" y1="1680.4" x2="1860.8" y2="1708" stroke="#7c7c7c" stroke-width="1"/>
<rect x="1867" y="1676" width="84.7" height="36" rx="5" fill="#4db3e6"/>
<text transform="matrix(0.8784 0 0 1 1879.45 0)" y="1703.1" font-size="22.38" fill="#141414">Charts</text>
<line x1="1958.2" y1="1680.4" x2="1958.2" y2="1708" stroke="#7c7c7c" stroke-width="1"/>
<defs><linearGradient id="kg" x1="0" y1="0" x2="0" y2="1"><stop offset="0" stop-color="#ffffff"/><stop offset="1" stop-color="#d3e8f6"/></linearGradient></defs>
<path d="M1959 1669 H2036 V1670 Q2029.5 1670.5 2029.5 1677 V1705.5 Q2029.5 1711.7 2023.5 1711.7 H1971 Q1965 1711.7 1965 1705.5 V1677 Q1965 1670.5 1959 1670 Z" fill="url(#kg)"/>
<text transform="matrix(0.9578 0 0 1 1976.82 0)" y="1697.5" font-size="20.06" fill="#1a1a2a">KPIs</text>
<rect x="1977.1" y="1705" width="39.9" height="2.8" fill="#1e8a4c"/>
<line x1="2035.6" y1="1680" x2="2035.6" y2="1708" stroke="#7c7c7c" stroke-width="1"/>
<clipPath id="scc"><rect x="2042" y="1670" width="30" height="48"/></clipPath>
<g clip-path="url(#scc)"><rect x="2042" y="1675.8" width="60" height="36" rx="5" fill="#4db3e6"/>
<text transform="matrix(0.9500 0 0 1 2054.03 0)" y="1702.6" font-size="22.38" fill="#141414">Sc</text>
</g>
<circle cx="2088.5" cy="1692.6" r="2.3" fill="#e0e0e0"/>
<circle cx="2095.2" cy="1692.6" r="2.3" fill="#e0e0e0"/>
<circle cx="2101.7" cy="1692.6" r="2.3" fill="#e0e0e0"/>
<path d="M2143.3 1684.4 V1700.8 M2134.8 1692.6 H2151.9" stroke="#e0e0e0" stroke-width="1.6" fill="none" stroke-linecap="round" stroke-linejoin="round"/>
<rect x="2190.5" y="1686.7" width="3" height="3" fill="#e0e0e0"/>
<rect x="2190.5" y="1692.7" width="3" height="3" fill="#e0e0e0"/>
<rect x="2190.5" y="1698.7" width="3" height="3" fill="#e0e0e0"/>
<rect x="2216.4" y="1680" width="643.5" height="26.9" rx="13" fill="#1b1b1b"/>
<polygon points="2223.7,1693.5 2234,1686.8 2234,1700.2" fill="#9a9a9a"/>
<rect x="2241.6" y="1687" width="411.4" height="12.5" rx="6.2" fill="#9e9e9e"/>
<polygon points="2853,1692.5 2841,1686 2841,1699" fill="#9a9a9a"/>
<text transform="matrix(0.9759 0 0 1 26.37 0)" y="1741" font-size="15.41" fill="#e8e8e8">Ready</text>
<path d="M99.5 1745.5 V1726.5 H120.5 V1733 M99.5 1730.5 H120.5 M102.5 1735 H108 M102.5 1739 H107 M102.5 1743 H107" stroke="#ececec" stroke-width="1.6" fill="none" stroke-linecap="round" stroke-linejoin="round"/>
<circle cx="113.5" cy="1739.5" r="6.3" fill="#121212" stroke="#ececec" stroke-width="1.6"/><circle cx="113.5" cy="1739.5" r="2.6" fill="#ececec"/>
<circle cx="155" cy="1727.5" r="2.6" fill="none" stroke="#ececec" stroke-width="1.5"/>
<path d="M146.5 1730 Q151 1734 155 1733 Q159 1734 163.5 1730 M155 1733 V1738 L151 1745 M155 1738 L157 1741" stroke="#ececec" stroke-width="1.6" fill="none" stroke-linecap="round" stroke-linejoin="round"/>
<path d="M159 1738 L167 1745.5 M167 1738 L159 1745.5" stroke="#ececec" stroke-width="1.6" fill="none" stroke-linecap="round" stroke-linejoin="round"/>
<text transform="matrix(1.0230 0 0 1 172.91 0)" y="1741" font-size="15.41" font-weight="700" fill="#f2f2f2">Accessibility: Investigate</text>
<rect x="2445" y="1719" width="59.7" height="32" fill="#262626"/>
<rect x="2465" y="1725" width="19" height="18" fill="none" stroke="#e6e6e6" stroke-width="1.5"/>
<line x1="2471.3333333333335" y1="1725" x2="2471.3333333333335" y2="1743" stroke="#e6e6e6" stroke-width="1.3"/>
<line x1="2465" y1="1731.0" x2="2484" y2="1731.0" stroke="#e6e6e6" stroke-width="1.3"/>
<line x1="2477.6666666666665" y1="1725" x2="2477.6666666666665" y2="1743" stroke="#e6e6e6" stroke-width="1.3"/>
<line x1="2465" y1="1737.0" x2="2484" y2="1737.0" stroke="#e6e6e6" stroke-width="1.3"/>
<rect x="2524.5" y="1725" width="21" height="18" fill="none" stroke="#e6e6e6" stroke-width="1.5"/>
<rect x="2528.5" y="1728.5" width="13" height="11.5" fill="none" stroke="#e6e6e6" stroke-width="1.3"/>
<line x1="2531" y1="1731.7" x2="2539" y2="1731.7" stroke="#e6e6e6" stroke-width="1.1"/>
<line x1="2531" y1="1734.4" x2="2539" y2="1734.4" stroke="#e6e6e6" stroke-width="1.1"/>
<line x1="2531" y1="1737.1" x2="2539" y2="1737.1" stroke="#e6e6e6" stroke-width="1.1"/>
<rect x="2584.5" y="1725" width="21" height="18" fill="none" stroke="#e6e6e6" stroke-width="1.5"/>
<path d="M2590.5 1725 V1734 H2596 V1725" stroke="#e6e6e6" stroke-width="1.4" fill="none" stroke-linecap="round" stroke-linejoin="round"/>
<path d="M2632 1735 H2645" stroke="#d8d8d8" stroke-width="1.5" fill="none" stroke-linecap="round" stroke-linejoin="round"/>
<line x1="2653" y1="1735" x2="2800.8" y2="1735" stroke="#9a9a9a" stroke-width="1.5"/>
<rect x="2727" y="1731" width="1.6" height="8" fill="#9a9a9a"/>
<rect x="2733" y="1726" width="8" height="17" rx="1" fill="#bdbdbd"/>
<path d="M2808 1735 H2821 M2814.5 1728.5 V1741.5" stroke="#d8d8d8" stroke-width="1.5" fill="none" stroke-linecap="round" stroke-linejoin="round"/>
<text transform="matrix(1.0244 0 0 1 2838.20 0)" y="1741" font-size="15.41" fill="#e8e8e8">140%</text>
</svg></body></html>
